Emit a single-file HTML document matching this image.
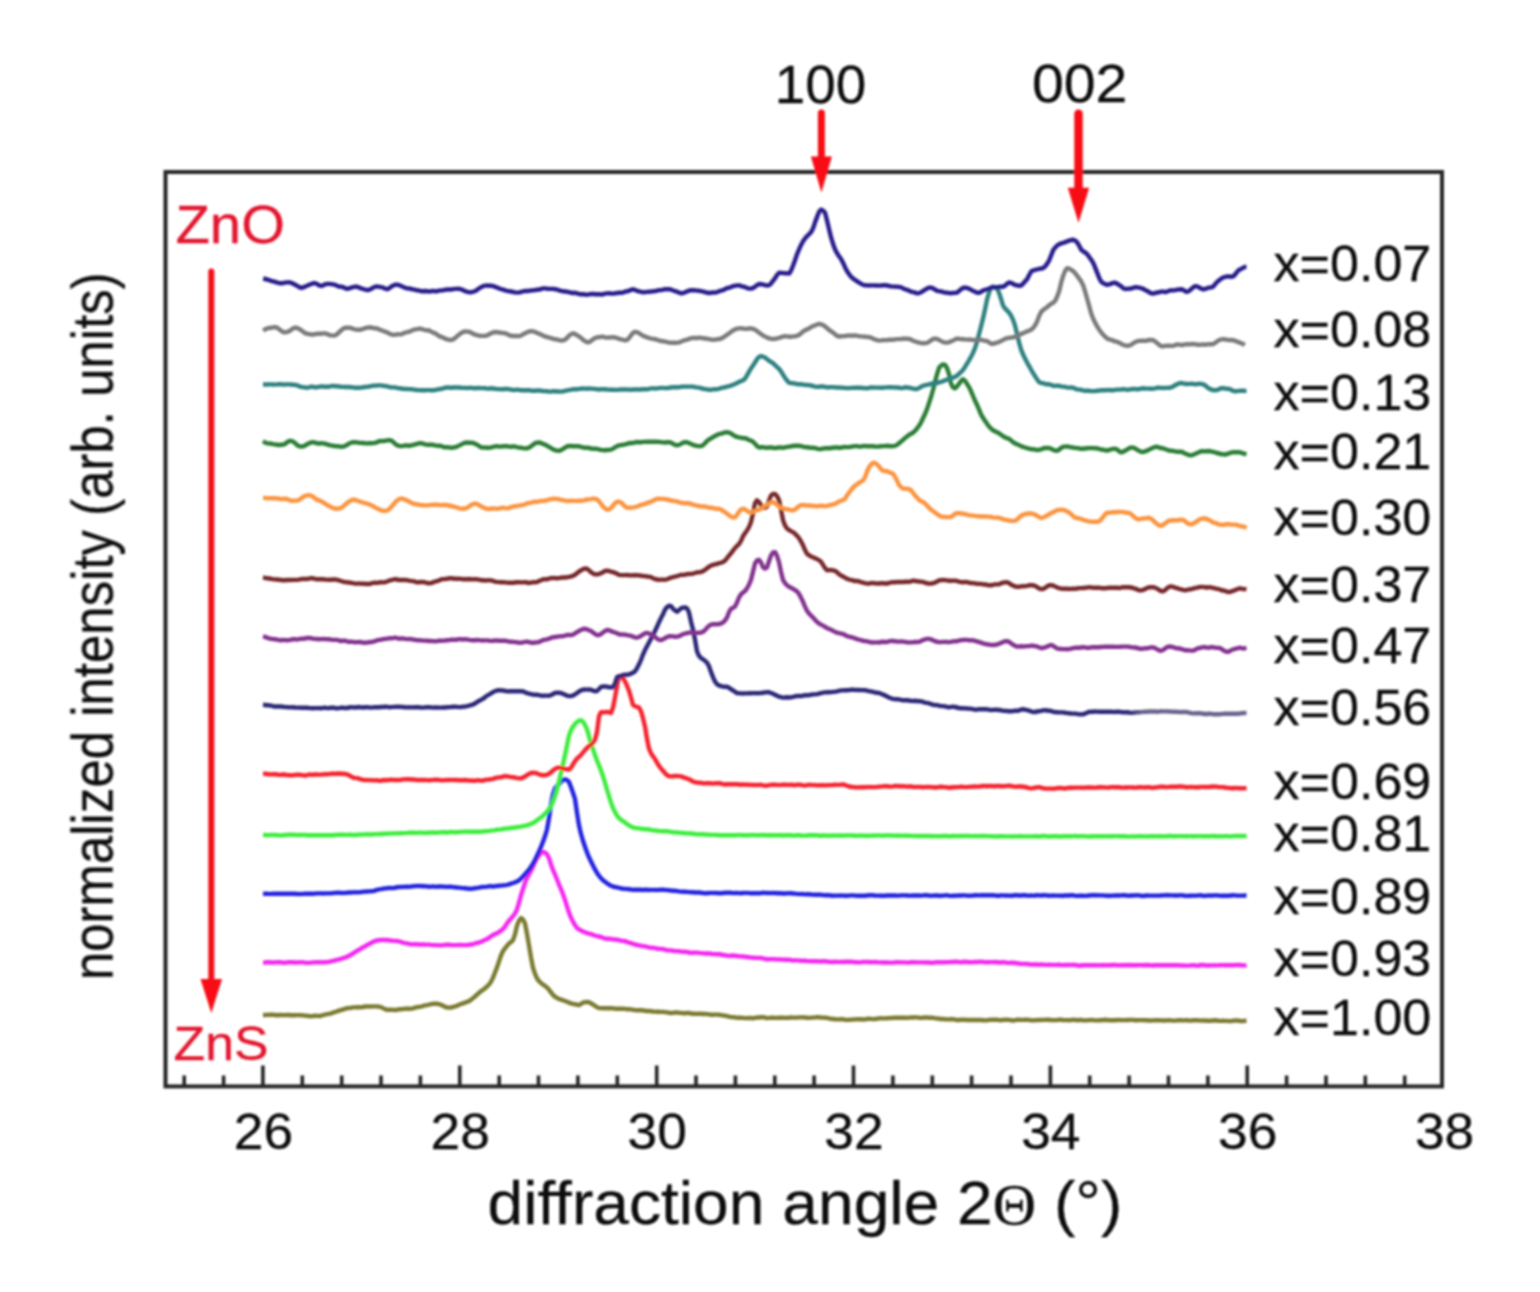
<!DOCTYPE html>
<html><head><meta charset="utf-8"><title>XRD</title>
<style>html,body{margin:0;padding:0;background:#fff;width:1540px;height:1292px;overflow:hidden}
text{font-family:"Liberation Sans", Arial, Helvetica, sans-serif;stroke:currentColor;stroke-width:0.3px;paint-order:stroke}</style></head>
<body>
<svg width="1540" height="1292" viewBox="0 0 1540 1292" style="display:block">
<rect width="1540" height="1292" fill="#fff"/>
<defs><filter id="b" x="-5%" y="-5%" width="110%" height="110%"><feGaussianBlur stdDeviation="1.0"/></filter></defs>
<g filter="url(#b)">
<path d="M263.0,1015.0 L265.0,1015.0 L267.0,1014.9 L269.0,1014.8 L271.0,1014.8 L273.0,1014.8 L275.0,1015.0 L277.0,1015.2 L279.0,1015.0 L281.0,1014.9 L283.0,1015.1 L285.0,1015.1 L287.0,1015.0 L289.0,1015.0 L291.0,1015.2 L293.0,1015.3 L295.0,1015.2 L297.0,1015.1 L299.0,1015.1 L301.0,1015.2 L303.0,1015.4 L305.0,1015.6 L307.0,1015.8 L309.0,1016.1 L311.0,1016.2 L313.0,1016.0 L315.0,1015.7 L317.0,1015.9 L319.0,1016.0 L321.0,1015.7 L323.0,1015.1 L325.0,1014.7 L327.0,1014.2 L329.0,1013.8 L331.0,1013.3 L333.0,1012.6 L335.0,1012.0 L337.0,1011.4 L339.0,1010.6 L341.0,1010.0 L343.0,1009.5 L345.0,1008.8 L347.0,1008.2 L349.0,1008.1 L351.0,1007.8 L353.0,1007.4 L355.0,1007.4 L357.0,1007.2 L359.0,1007.1 L361.0,1007.3 L363.0,1007.0 L365.0,1006.5 L367.0,1006.5 L369.0,1006.5 L371.0,1006.5 L373.0,1006.4 L375.0,1006.4 L377.0,1006.5 L379.0,1006.6 L381.0,1007.1 L383.0,1008.1 L385.0,1009.1 L387.0,1009.8 L389.0,1009.7 L391.0,1009.7 L393.0,1009.9 L395.0,1010.0 L397.0,1009.8 L399.0,1009.3 L401.0,1009.2 L403.0,1009.1 L405.0,1008.7 L407.0,1008.6 L409.0,1008.7 L411.0,1008.7 L413.0,1008.3 L415.0,1007.7 L417.0,1007.2 L419.0,1006.9 L421.0,1006.6 L423.0,1006.0 L425.0,1005.4 L427.0,1005.1 L429.0,1004.7 L431.0,1004.2 L433.0,1003.8 L435.0,1003.7 L437.0,1003.8 L439.0,1004.1 L441.0,1004.8 L443.0,1005.7 L445.0,1006.8 L447.0,1007.5 L449.0,1007.6 L451.0,1007.5 L453.0,1007.0 L455.0,1006.4 L457.0,1005.8 L459.0,1004.8 L461.0,1004.0 L463.0,1003.3 L465.0,1002.6 L467.0,1001.9 L469.0,1001.1 L471.0,999.7 L473.0,998.1 L475.0,996.5 L477.0,994.7 L479.0,992.8 L481.0,991.2 L483.0,989.9 L485.0,988.3 L487.0,986.5 L489.0,984.5 L491.0,981.8 L493.0,977.6 L495.0,972.5 L497.0,967.4 L499.0,961.4 L501.0,955.5 L503.0,951.1 L505.0,948.3 L507.0,945.8 L509.0,943.6 L511.0,942.1 L513.0,940.1 L515.0,934.3 L517.0,925.7 L519.0,920.6 L521.0,918.1 L523.0,919.5 L525.0,923.5 L527.0,933.9 L529.0,945.5 L531.0,957.4 L533.0,967.8 L535.0,973.9 L537.0,978.4 L539.0,981.1 L541.0,983.0 L543.0,984.6 L545.0,985.9 L547.0,987.4 L549.0,989.7 L551.0,992.4 L553.0,995.0 L555.0,996.7 L557.0,998.0 L559.0,998.9 L561.0,999.6 L563.0,1000.2 L565.0,1001.0 L567.0,1001.8 L569.0,1002.6 L571.0,1003.4 L573.0,1003.9 L575.0,1004.2 L577.0,1004.7 L579.0,1005.0 L581.0,1004.0 L583.0,1002.7 L585.0,1002.1 L587.0,1002.0 L589.0,1002.3 L591.0,1003.3 L593.0,1004.5 L595.0,1005.8 L597.0,1007.2 L599.0,1008.0 L601.0,1008.1 L603.0,1008.2 L605.0,1008.3 L607.0,1008.3 L609.0,1008.3 L611.0,1008.2 L613.0,1008.3 L615.0,1008.7 L617.0,1008.7 L619.0,1008.7 L621.0,1008.8 L623.0,1008.8 L625.0,1008.9 L627.0,1009.2 L629.0,1009.3 L631.0,1009.4 L633.0,1009.8 L635.0,1010.1 L637.0,1010.3 L639.0,1010.3 L641.0,1010.2 L643.0,1010.3 L645.0,1010.8 L647.0,1011.0 L649.0,1011.0 L651.0,1011.2 L653.0,1011.5 L655.0,1011.6 L657.0,1011.7 L659.0,1011.8 L661.0,1011.9 L663.0,1011.9 L665.0,1012.1 L667.0,1012.4 L669.0,1012.7 L671.0,1013.0 L673.0,1012.9 L675.0,1012.5 L677.0,1012.5 L679.0,1012.8 L681.0,1012.9 L683.0,1013.2 L685.0,1013.3 L687.0,1013.0 L689.0,1013.0 L691.0,1013.5 L693.0,1013.8 L695.0,1013.8 L697.0,1013.9 L699.0,1013.8 L701.0,1013.8 L703.0,1014.0 L705.0,1014.0 L707.0,1014.1 L709.0,1014.4 L711.0,1014.7 L713.0,1014.7 L715.0,1014.6 L717.0,1014.6 L719.0,1014.8 L721.0,1015.1 L723.0,1015.4 L725.0,1015.7 L727.0,1016.2 L729.0,1016.7 L731.0,1017.1 L733.0,1017.1 L735.0,1017.4 L737.0,1017.7 L739.0,1017.7 L741.0,1017.7 L743.0,1017.9 L745.0,1018.1 L747.0,1018.1 L749.0,1018.0 L751.0,1018.0 L753.0,1018.2 L755.0,1017.9 L757.0,1017.5 L759.0,1017.5 L761.0,1017.2 L763.0,1017.1 L765.0,1017.6 L767.0,1018.1 L769.0,1017.9 L771.0,1017.6 L773.0,1017.7 L775.0,1017.9 L777.0,1017.9 L779.0,1017.8 L781.0,1017.7 L783.0,1017.8 L785.0,1017.9 L787.0,1017.9 L789.0,1017.7 L791.0,1017.5 L793.0,1017.6 L795.0,1017.6 L797.0,1017.6 L799.0,1017.4 L801.0,1017.4 L803.0,1017.4 L805.0,1017.5 L807.0,1017.8 L809.0,1017.9 L811.0,1017.6 L813.0,1017.6 L815.0,1017.4 L817.0,1017.1 L819.0,1017.3 L821.0,1017.6 L823.0,1017.6 L825.0,1017.7 L827.0,1017.9 L829.0,1018.4 L831.0,1018.8 L833.0,1019.0 L835.0,1019.2 L837.0,1019.4 L839.0,1019.4 L841.0,1019.2 L843.0,1019.3 L845.0,1019.7 L847.0,1019.9 L849.0,1019.8 L851.0,1019.6 L853.0,1019.5 L855.0,1019.4 L857.0,1019.3 L859.0,1019.2 L861.0,1019.3 L863.0,1019.5 L865.0,1019.3 L867.0,1019.0 L869.0,1018.8 L871.0,1018.9 L873.0,1019.1 L875.0,1019.0 L877.0,1018.7 L879.0,1018.4 L881.0,1018.2 L883.0,1018.4 L885.0,1018.4 L887.0,1018.2 L889.0,1018.1 L891.0,1018.0 L893.0,1017.9 L895.0,1017.7 L897.0,1017.6 L899.0,1017.7 L901.0,1017.8 L903.0,1017.7 L905.0,1017.8 L907.0,1017.9 L909.0,1017.6 L911.0,1017.4 L913.0,1017.5 L915.0,1017.4 L917.0,1017.4 L919.0,1017.7 L921.0,1017.9 L923.0,1017.7 L925.0,1017.5 L927.0,1017.5 L929.0,1017.7 L931.0,1017.6 L933.0,1017.8 L935.0,1018.2 L937.0,1018.4 L939.0,1018.7 L941.0,1019.0 L943.0,1019.0 L945.0,1019.2 L947.0,1019.4 L949.0,1019.3 L951.0,1019.1 L953.0,1019.2 L955.0,1019.6 L957.0,1020.0 L959.0,1020.0 L961.0,1019.7 L963.0,1019.7 L965.0,1019.8 L967.0,1020.0 L969.0,1020.0 L971.0,1020.0 L973.0,1020.0 L975.0,1020.0 L977.0,1020.0 L979.0,1020.0 L981.0,1020.0 L983.0,1020.2 L985.0,1020.4 L987.0,1020.3 L989.0,1019.9 L991.0,1019.7 L993.0,1019.8 L995.0,1019.6 L997.0,1019.7 L999.0,1020.1 L1001.0,1020.2 L1003.0,1019.9 L1005.0,1019.7 L1007.0,1019.7 L1009.0,1019.9 L1011.0,1020.2 L1013.0,1020.5 L1015.0,1020.2 L1017.0,1019.8 L1019.0,1019.7 L1021.0,1019.9 L1023.0,1019.9 L1025.0,1019.8 L1027.0,1019.8 L1029.0,1019.9 L1031.0,1020.2 L1033.0,1020.4 L1035.0,1020.2 L1037.0,1020.1 L1039.0,1020.0 L1041.0,1020.0 L1043.0,1019.9 L1045.0,1019.8 L1047.0,1019.6 L1049.0,1019.7 L1051.0,1020.0 L1053.0,1020.1 L1055.0,1020.1 L1057.0,1020.1 L1059.0,1019.7 L1061.0,1019.8 L1063.0,1020.0 L1065.0,1020.1 L1067.0,1020.1 L1069.0,1020.2 L1071.0,1020.1 L1073.0,1019.8 L1075.0,1019.9 L1077.0,1020.2 L1079.0,1020.0 L1081.0,1019.9 L1083.0,1020.2 L1085.0,1020.4 L1087.0,1020.3 L1089.0,1020.1 L1091.0,1019.9 L1093.0,1020.1 L1095.0,1020.4 L1097.0,1020.4 L1099.0,1020.3 L1101.0,1020.2 L1103.0,1020.0 L1105.0,1019.8 L1107.0,1020.0 L1109.0,1020.2 L1111.0,1020.1 L1113.0,1020.3 L1115.0,1020.2 L1117.0,1020.0 L1119.0,1020.0 L1121.0,1020.1 L1123.0,1020.1 L1125.0,1020.1 L1127.0,1020.0 L1129.0,1020.0 L1131.0,1019.9 L1133.0,1019.9 L1135.0,1020.2 L1137.0,1020.3 L1139.0,1020.1 L1141.0,1020.1 L1143.0,1020.1 L1145.0,1020.2 L1147.0,1020.3 L1149.0,1020.5 L1151.0,1020.5 L1153.0,1020.4 L1155.0,1020.3 L1157.0,1020.3 L1159.0,1020.3 L1161.0,1020.4 L1163.0,1020.5 L1165.0,1020.5 L1167.0,1020.4 L1169.0,1020.2 L1171.0,1020.4 L1173.0,1020.6 L1175.0,1020.6 L1177.0,1020.4 L1179.0,1020.3 L1181.0,1020.3 L1183.0,1020.4 L1185.0,1020.3 L1187.0,1020.1 L1189.0,1020.5 L1191.0,1020.6 L1193.0,1020.3 L1195.0,1020.2 L1197.0,1020.3 L1199.0,1020.4 L1201.0,1020.6 L1203.0,1020.5 L1205.0,1020.5 L1207.0,1020.7 L1209.0,1020.7 L1211.0,1020.7 L1213.0,1020.5 L1215.0,1020.3 L1217.0,1020.5 L1219.0,1020.9 L1221.0,1020.9 L1223.0,1020.8 L1225.0,1020.9 L1227.0,1020.9 L1229.0,1021.1 L1231.0,1021.1 L1233.0,1020.7 L1235.0,1020.5 L1237.0,1020.5 L1239.0,1020.7 L1241.0,1021.0 L1243.0,1021.1 L1245.0,1020.8 L1246.5,1020.7" fill="none" stroke="#7a7a32" stroke-width="4.4" stroke-linejoin="round" stroke-linecap="butt"/>
<path d="M263.0,962.6 L265.0,962.5 L267.0,962.2 L269.0,962.3 L271.0,962.5 L273.0,962.5 L275.0,962.4 L277.0,962.3 L279.0,962.2 L281.0,962.3 L283.0,962.7 L285.0,962.7 L287.0,962.4 L289.0,962.2 L291.0,962.1 L293.0,962.3 L295.0,962.5 L297.0,962.5 L299.0,962.4 L301.0,962.3 L303.0,962.4 L305.0,962.6 L307.0,962.8 L309.0,962.9 L311.0,962.6 L313.0,962.4 L315.0,962.4 L317.0,962.3 L319.0,962.3 L321.0,962.4 L323.0,962.3 L325.0,962.3 L327.0,962.1 L329.0,961.8 L331.0,961.3 L333.0,960.8 L335.0,960.3 L337.0,959.8 L339.0,959.3 L341.0,958.8 L343.0,958.2 L345.0,957.5 L347.0,956.8 L349.0,955.8 L351.0,954.7 L353.0,953.5 L355.0,952.1 L357.0,950.9 L359.0,949.8 L361.0,948.5 L363.0,947.4 L365.0,946.3 L367.0,945.1 L369.0,944.0 L371.0,943.0 L373.0,941.9 L375.0,941.0 L377.0,940.5 L379.0,940.1 L381.0,940.0 L383.0,940.0 L385.0,940.0 L387.0,940.0 L389.0,940.3 L391.0,940.6 L393.0,940.8 L395.0,940.9 L397.0,941.0 L399.0,941.4 L401.0,942.0 L403.0,942.7 L405.0,943.1 L407.0,943.4 L409.0,943.9 L411.0,944.3 L413.0,944.4 L415.0,944.3 L417.0,944.3 L419.0,944.6 L421.0,944.5 L423.0,944.4 L425.0,944.6 L427.0,944.6 L429.0,944.6 L431.0,944.9 L433.0,945.1 L435.0,945.1 L437.0,945.1 L439.0,945.4 L441.0,945.4 L443.0,945.1 L445.0,944.9 L447.0,944.7 L449.0,944.8 L451.0,945.0 L453.0,945.1 L455.0,945.1 L457.0,945.1 L459.0,945.0 L461.0,945.0 L463.0,945.1 L465.0,945.1 L467.0,945.0 L469.0,944.8 L471.0,944.5 L473.0,944.2 L475.0,943.5 L477.0,942.9 L479.0,942.5 L481.0,941.8 L483.0,940.9 L485.0,939.9 L487.0,939.0 L489.0,937.8 L491.0,936.4 L493.0,935.0 L495.0,934.1 L497.0,933.3 L499.0,932.0 L501.0,930.6 L503.0,929.0 L505.0,926.6 L507.0,923.4 L509.0,920.7 L511.0,918.5 L513.0,916.2 L515.0,913.5 L517.0,909.4 L519.0,902.6 L521.0,895.4 L523.0,889.0 L525.0,882.9 L527.0,878.2 L529.0,874.5 L531.0,870.8 L533.0,866.5 L535.0,861.9 L537.0,858.1 L539.0,855.3 L541.0,852.9 L543.0,851.9 L545.0,852.5 L547.0,854.3 L549.0,858.1 L551.0,864.5 L553.0,869.9 L555.0,874.5 L557.0,879.4 L559.0,884.5 L561.0,889.2 L563.0,894.2 L565.0,899.9 L567.0,906.4 L569.0,912.7 L571.0,917.6 L573.0,921.7 L575.0,925.2 L577.0,927.9 L579.0,929.4 L581.0,930.5 L583.0,931.5 L585.0,932.3 L587.0,933.1 L589.0,933.7 L591.0,934.2 L593.0,934.8 L595.0,935.5 L597.0,936.1 L599.0,936.5 L601.0,937.0 L603.0,937.8 L605.0,938.5 L607.0,938.7 L609.0,938.7 L611.0,939.0 L613.0,939.4 L615.0,939.5 L617.0,939.7 L619.0,940.2 L621.0,940.7 L623.0,940.9 L625.0,941.2 L627.0,941.9 L629.0,942.7 L631.0,943.2 L633.0,943.8 L635.0,944.5 L637.0,945.0 L639.0,945.4 L641.0,945.8 L643.0,946.1 L645.0,946.4 L647.0,946.9 L649.0,947.4 L651.0,947.7 L653.0,947.8 L655.0,948.1 L657.0,948.6 L659.0,948.8 L661.0,948.9 L663.0,949.1 L665.0,949.7 L667.0,950.3 L669.0,950.4 L671.0,950.4 L673.0,950.8 L675.0,951.1 L677.0,951.1 L679.0,951.2 L681.0,951.6 L683.0,951.8 L685.0,951.8 L687.0,952.0 L689.0,952.5 L691.0,952.7 L693.0,952.7 L695.0,952.6 L697.0,952.6 L699.0,952.9 L701.0,953.1 L703.0,953.4 L705.0,953.5 L707.0,953.4 L709.0,953.5 L711.0,953.8 L713.0,954.0 L715.0,954.1 L717.0,954.3 L719.0,954.3 L721.0,954.5 L723.0,955.0 L725.0,955.3 L727.0,955.6 L729.0,955.9 L731.0,955.7 L733.0,955.5 L735.0,955.7 L737.0,956.0 L739.0,956.3 L741.0,956.4 L743.0,956.5 L745.0,956.8 L747.0,957.0 L749.0,957.3 L751.0,957.5 L753.0,957.6 L755.0,957.8 L757.0,957.9 L759.0,957.9 L761.0,958.0 L763.0,958.4 L765.0,959.0 L767.0,959.2 L769.0,959.2 L771.0,959.1 L773.0,959.1 L775.0,959.3 L777.0,959.4 L779.0,959.4 L781.0,959.5 L783.0,959.6 L785.0,959.7 L787.0,959.7 L789.0,959.8 L791.0,960.1 L793.0,960.5 L795.0,960.4 L797.0,960.4 L799.0,960.6 L801.0,960.7 L803.0,960.6 L805.0,960.7 L807.0,961.0 L809.0,961.1 L811.0,961.2 L813.0,961.3 L815.0,961.3 L817.0,961.2 L819.0,961.4 L821.0,961.5 L823.0,961.3 L825.0,961.3 L827.0,961.6 L829.0,961.8 L831.0,962.0 L833.0,962.0 L835.0,961.8 L837.0,961.9 L839.0,961.9 L841.0,961.9 L843.0,962.0 L845.0,961.8 L847.0,961.6 L849.0,961.7 L851.0,961.8 L853.0,961.9 L855.0,962.2 L857.0,962.3 L859.0,962.4 L861.0,962.2 L863.0,961.9 L865.0,961.9 L867.0,962.0 L869.0,962.0 L871.0,962.2 L873.0,962.1 L875.0,962.0 L877.0,962.3 L879.0,962.4 L881.0,962.4 L883.0,962.5 L885.0,962.5 L887.0,962.5 L889.0,962.6 L891.0,962.6 L893.0,962.6 L895.0,962.4 L897.0,962.3 L899.0,962.3 L901.0,962.4 L903.0,962.4 L905.0,962.4 L907.0,962.6 L909.0,962.5 L911.0,962.2 L913.0,962.1 L915.0,962.3 L917.0,962.4 L919.0,962.4 L921.0,962.4 L923.0,962.4 L925.0,962.5 L927.0,962.4 L929.0,962.5 L931.0,962.8 L933.0,962.8 L935.0,962.4 L937.0,962.2 L939.0,962.3 L941.0,962.4 L943.0,962.2 L945.0,962.2 L947.0,962.2 L949.0,962.1 L951.0,962.0 L953.0,962.0 L955.0,961.8 L957.0,961.8 L959.0,962.1 L961.0,962.2 L963.0,962.0 L965.0,961.8 L967.0,962.0 L969.0,962.2 L971.0,962.2 L973.0,962.1 L975.0,962.0 L977.0,962.0 L979.0,961.9 L981.0,961.8 L983.0,961.9 L985.0,962.2 L987.0,962.2 L989.0,962.2 L991.0,962.1 L993.0,962.1 L995.0,962.0 L997.0,962.2 L999.0,962.5 L1001.0,962.5 L1003.0,962.3 L1005.0,962.4 L1007.0,962.7 L1009.0,962.9 L1011.0,962.7 L1013.0,962.7 L1015.0,963.0 L1017.0,963.3 L1019.0,963.6 L1021.0,963.8 L1023.0,963.9 L1025.0,963.9 L1027.0,963.9 L1029.0,964.2 L1031.0,964.6 L1033.0,964.5 L1035.0,964.4 L1037.0,964.5 L1039.0,964.7 L1041.0,964.5 L1043.0,964.6 L1045.0,964.8 L1047.0,964.9 L1049.0,964.8 L1051.0,964.9 L1053.0,964.9 L1055.0,964.9 L1057.0,964.9 L1059.0,964.8 L1061.0,965.0 L1063.0,965.1 L1065.0,964.9 L1067.0,965.0 L1069.0,965.0 L1071.0,964.9 L1073.0,964.9 L1075.0,965.0 L1077.0,965.3 L1079.0,965.7 L1081.0,965.5 L1083.0,965.3 L1085.0,965.2 L1087.0,965.2 L1089.0,965.2 L1091.0,965.2 L1093.0,965.1 L1095.0,965.2 L1097.0,965.3 L1099.0,965.4 L1101.0,965.2 L1103.0,965.1 L1105.0,965.2 L1107.0,965.3 L1109.0,965.3 L1111.0,965.2 L1113.0,965.0 L1115.0,964.9 L1117.0,965.2 L1119.0,965.4 L1121.0,965.3 L1123.0,965.3 L1125.0,965.3 L1127.0,965.2 L1129.0,965.0 L1131.0,965.2 L1133.0,965.3 L1135.0,965.2 L1137.0,965.2 L1139.0,965.1 L1141.0,965.1 L1143.0,965.3 L1145.0,965.2 L1147.0,965.0 L1149.0,965.2 L1151.0,965.4 L1153.0,965.5 L1155.0,965.3 L1157.0,965.3 L1159.0,965.3 L1161.0,965.2 L1163.0,965.3 L1165.0,965.2 L1167.0,965.1 L1169.0,965.2 L1171.0,965.2 L1173.0,965.2 L1175.0,965.2 L1177.0,965.2 L1179.0,965.4 L1181.0,965.5 L1183.0,965.5 L1185.0,965.6 L1187.0,965.6 L1189.0,965.6 L1191.0,965.4 L1193.0,965.3 L1195.0,965.4 L1197.0,965.7 L1199.0,965.5 L1201.0,965.0 L1203.0,965.0 L1205.0,965.4 L1207.0,965.5 L1209.0,965.5 L1211.0,965.4 L1213.0,965.4 L1215.0,965.4 L1217.0,965.4 L1219.0,965.3 L1221.0,965.1 L1223.0,965.1 L1225.0,965.3 L1227.0,965.3 L1229.0,965.3 L1231.0,965.2 L1233.0,965.2 L1235.0,965.1 L1237.0,965.0 L1239.0,965.0 L1241.0,965.2 L1243.0,965.4 L1245.0,965.5 L1246.5,965.4" fill="none" stroke="#f428f0" stroke-width="4.4" stroke-linejoin="round" stroke-linecap="butt"/>
<path d="M263.0,893.9 L265.0,893.8 L267.0,893.8 L269.0,893.9 L271.0,893.9 L273.0,893.8 L275.0,893.7 L277.0,893.7 L279.0,893.7 L281.0,893.7 L283.0,893.8 L285.0,893.8 L287.0,893.7 L289.0,893.7 L291.0,893.8 L293.0,893.8 L295.0,893.8 L297.0,894.0 L299.0,894.0 L301.0,894.1 L303.0,893.9 L305.0,893.7 L307.0,893.7 L309.0,893.8 L311.0,893.8 L313.0,893.7 L315.0,893.6 L317.0,893.4 L319.0,893.4 L321.0,893.4 L323.0,893.5 L325.0,893.4 L327.0,893.4 L329.0,893.4 L331.0,893.3 L333.0,893.1 L335.0,892.9 L337.0,892.8 L339.0,892.7 L341.0,892.9 L343.0,893.0 L345.0,892.9 L347.0,892.7 L349.0,892.5 L351.0,892.5 L353.0,892.4 L355.0,892.3 L357.0,892.4 L359.0,892.3 L361.0,892.1 L363.0,891.8 L365.0,891.6 L367.0,891.5 L369.0,891.4 L371.0,891.3 L373.0,891.1 L375.0,890.6 L377.0,889.8 L379.0,889.4 L381.0,889.1 L383.0,888.7 L385.0,888.4 L387.0,888.2 L389.0,887.9 L391.0,888.0 L393.0,888.1 L395.0,887.8 L397.0,887.2 L399.0,887.0 L401.0,887.0 L403.0,886.9 L405.0,886.7 L407.0,886.6 L409.0,886.7 L411.0,886.6 L413.0,886.3 L415.0,886.1 L417.0,886.0 L419.0,885.9 L421.0,886.0 L423.0,886.2 L425.0,886.3 L427.0,886.4 L429.0,886.7 L431.0,886.6 L433.0,886.4 L435.0,886.6 L437.0,886.7 L439.0,886.5 L441.0,886.5 L443.0,886.6 L445.0,886.7 L447.0,886.9 L449.0,886.7 L451.0,886.8 L453.0,887.1 L455.0,887.3 L457.0,887.5 L459.0,887.6 L461.0,887.9 L463.0,888.1 L465.0,888.2 L467.0,888.5 L469.0,888.7 L471.0,888.8 L473.0,888.6 L475.0,888.2 L477.0,887.9 L479.0,887.6 L481.0,887.2 L483.0,886.9 L485.0,886.9 L487.0,886.7 L489.0,886.3 L491.0,886.3 L493.0,886.5 L495.0,886.3 L497.0,886.0 L499.0,885.8 L501.0,885.6 L503.0,885.4 L505.0,885.2 L507.0,884.8 L509.0,884.3 L511.0,883.6 L513.0,883.0 L515.0,882.3 L517.0,881.5 L519.0,880.3 L521.0,878.6 L523.0,876.4 L525.0,874.2 L527.0,872.0 L529.0,869.6 L531.0,866.9 L533.0,863.8 L535.0,859.9 L537.0,855.6 L539.0,851.4 L541.0,846.9 L543.0,841.7 L545.0,836.3 L547.0,829.5 L549.0,818.2 L551.0,804.1 L553.0,794.4 L555.0,788.4 L557.0,785.9 L559.0,784.2 L561.0,781.8 L563.0,779.8 L565.0,779.4 L567.0,780.0 L569.0,781.9 L571.0,787.2 L573.0,792.7 L575.0,798.9 L577.0,812.8 L579.0,825.3 L581.0,833.9 L583.0,840.8 L585.0,846.8 L587.0,852.4 L589.0,857.3 L591.0,861.5 L593.0,865.5 L595.0,869.4 L597.0,872.9 L599.0,875.8 L601.0,878.2 L603.0,880.2 L605.0,881.8 L607.0,883.2 L609.0,884.6 L611.0,885.7 L613.0,886.5 L615.0,887.0 L617.0,887.4 L619.0,887.8 L621.0,888.3 L623.0,888.8 L625.0,888.9 L627.0,889.0 L629.0,889.2 L631.0,889.5 L633.0,889.7 L635.0,889.7 L637.0,889.7 L639.0,889.6 L641.0,889.8 L643.0,890.0 L645.0,889.8 L647.0,889.8 L649.0,890.0 L651.0,889.9 L653.0,889.9 L655.0,889.9 L657.0,890.0 L659.0,889.9 L661.0,889.8 L663.0,889.8 L665.0,889.9 L667.0,890.1 L669.0,890.3 L671.0,890.6 L673.0,890.7 L675.0,890.8 L677.0,891.1 L679.0,891.4 L681.0,891.6 L683.0,891.7 L685.0,891.8 L687.0,891.9 L689.0,892.1 L691.0,892.2 L693.0,892.3 L695.0,892.5 L697.0,892.5 L699.0,892.5 L701.0,892.7 L703.0,893.0 L705.0,893.2 L707.0,893.2 L709.0,893.0 L711.0,892.9 L713.0,892.9 L715.0,893.0 L717.0,893.0 L719.0,893.2 L721.0,893.3 L723.0,893.0 L725.0,892.8 L727.0,892.7 L729.0,892.7 L731.0,892.8 L733.0,893.1 L735.0,893.0 L737.0,892.9 L739.0,893.1 L741.0,893.2 L743.0,893.0 L745.0,892.9 L747.0,892.9 L749.0,893.1 L751.0,893.2 L753.0,893.3 L755.0,893.3 L757.0,893.3 L759.0,893.3 L761.0,893.1 L763.0,892.8 L765.0,892.9 L767.0,893.0 L769.0,893.0 L771.0,893.1 L773.0,893.0 L775.0,893.0 L777.0,893.3 L779.0,893.3 L781.0,893.3 L783.0,893.5 L785.0,893.5 L787.0,893.4 L789.0,893.2 L791.0,893.3 L793.0,893.5 L795.0,893.6 L797.0,893.9 L799.0,894.1 L801.0,894.0 L803.0,894.1 L805.0,894.4 L807.0,894.3 L809.0,894.3 L811.0,894.5 L813.0,894.6 L815.0,894.7 L817.0,894.8 L819.0,894.8 L821.0,894.8 L823.0,895.1 L825.0,895.2 L827.0,895.2 L829.0,895.3 L831.0,895.5 L833.0,895.7 L835.0,895.6 L837.0,895.6 L839.0,895.6 L841.0,895.5 L843.0,895.6 L845.0,895.7 L847.0,895.7 L849.0,895.6 L851.0,895.4 L853.0,895.4 L855.0,895.6 L857.0,895.7 L859.0,895.7 L861.0,895.7 L863.0,895.8 L865.0,895.8 L867.0,895.5 L869.0,895.3 L871.0,895.2 L873.0,895.3 L875.0,895.6 L877.0,895.6 L879.0,895.6 L881.0,895.8 L883.0,895.8 L885.0,895.7 L887.0,895.5 L889.0,895.5 L891.0,895.5 L893.0,895.5 L895.0,895.4 L897.0,895.6 L899.0,895.6 L901.0,895.4 L903.0,895.4 L905.0,895.4 L907.0,895.5 L909.0,895.6 L911.0,895.6 L913.0,895.5 L915.0,895.4 L917.0,895.5 L919.0,895.5 L921.0,895.6 L923.0,895.4 L925.0,895.1 L927.0,895.3 L929.0,895.6 L931.0,895.7 L933.0,895.6 L935.0,895.5 L937.0,895.4 L939.0,895.7 L941.0,895.8 L943.0,895.6 L945.0,895.4 L947.0,895.3 L949.0,895.7 L951.0,895.9 L953.0,895.8 L955.0,895.7 L957.0,895.6 L959.0,895.5 L961.0,895.5 L963.0,895.4 L965.0,895.4 L967.0,895.6 L969.0,895.7 L971.0,895.6 L973.0,895.5 L975.0,895.3 L977.0,895.3 L979.0,895.4 L981.0,895.3 L983.0,895.2 L985.0,895.2 L987.0,895.2 L989.0,895.2 L991.0,895.1 L993.0,895.2 L995.0,895.4 L997.0,895.7 L999.0,895.7 L1001.0,895.4 L1003.0,895.4 L1005.0,895.6 L1007.0,895.5 L1009.0,895.6 L1011.0,895.7 L1013.0,895.5 L1015.0,895.3 L1017.0,895.3 L1019.0,895.5 L1021.0,895.5 L1023.0,895.3 L1025.0,895.3 L1027.0,895.5 L1029.0,895.6 L1031.0,895.5 L1033.0,895.6 L1035.0,895.5 L1037.0,895.3 L1039.0,895.4 L1041.0,895.5 L1043.0,895.3 L1045.0,895.2 L1047.0,895.4 L1049.0,895.7 L1051.0,895.6 L1053.0,895.5 L1055.0,895.6 L1057.0,895.6 L1059.0,895.6 L1061.0,895.8 L1063.0,895.7 L1065.0,895.5 L1067.0,895.4 L1069.0,895.5 L1071.0,895.3 L1073.0,895.3 L1075.0,895.7 L1077.0,895.9 L1079.0,895.7 L1081.0,895.6 L1083.0,895.7 L1085.0,895.9 L1087.0,895.8 L1089.0,895.5 L1091.0,895.3 L1093.0,895.3 L1095.0,895.1 L1097.0,895.2 L1099.0,895.4 L1101.0,895.4 L1103.0,895.4 L1105.0,895.6 L1107.0,895.8 L1109.0,895.8 L1111.0,895.7 L1113.0,895.6 L1115.0,895.5 L1117.0,895.5 L1119.0,895.5 L1121.0,895.4 L1123.0,895.3 L1125.0,895.3 L1127.0,895.6 L1129.0,895.7 L1131.0,895.5 L1133.0,895.5 L1135.0,895.4 L1137.0,895.3 L1139.0,895.4 L1141.0,895.8 L1143.0,896.0 L1145.0,895.7 L1147.0,895.5 L1149.0,895.6 L1151.0,895.6 L1153.0,895.6 L1155.0,895.6 L1157.0,895.6 L1159.0,895.6 L1161.0,895.5 L1163.0,895.4 L1165.0,895.3 L1167.0,895.3 L1169.0,895.3 L1171.0,895.4 L1173.0,895.4 L1175.0,895.5 L1177.0,895.5 L1179.0,895.4 L1181.0,895.3 L1183.0,895.4 L1185.0,895.7 L1187.0,895.9 L1189.0,895.8 L1191.0,895.7 L1193.0,895.6 L1195.0,895.6 L1197.0,895.6 L1199.0,895.4 L1201.0,895.3 L1203.0,895.8 L1205.0,895.9 L1207.0,895.6 L1209.0,895.5 L1211.0,895.6 L1213.0,895.5 L1215.0,895.4 L1217.0,895.4 L1219.0,895.6 L1221.0,895.7 L1223.0,895.8 L1225.0,895.8 L1227.0,895.8 L1229.0,895.7 L1231.0,895.5 L1233.0,895.3 L1235.0,895.4 L1237.0,895.6 L1239.0,895.6 L1241.0,895.6 L1243.0,895.6 L1245.0,895.4 L1246.5,895.5" fill="none" stroke="#2424e0" stroke-width="4.4" stroke-linejoin="round" stroke-linecap="butt"/>
<path d="M263.0,834.9 L265.0,835.0 L267.0,835.1 L269.0,835.1 L271.0,834.9 L273.0,834.9 L275.0,835.0 L277.0,835.1 L279.0,835.3 L281.0,835.4 L283.0,835.3 L285.0,835.0 L287.0,834.9 L289.0,834.8 L291.0,834.8 L293.0,834.8 L295.0,834.9 L297.0,835.0 L299.0,835.0 L301.0,835.0 L303.0,834.9 L305.0,834.9 L307.0,835.2 L309.0,835.3 L311.0,835.3 L313.0,835.3 L315.0,835.2 L317.0,835.1 L319.0,835.2 L321.0,835.3 L323.0,835.1 L325.0,835.2 L327.0,835.3 L329.0,835.2 L331.0,835.2 L333.0,835.2 L335.0,835.0 L337.0,834.9 L339.0,834.8 L341.0,834.8 L343.0,834.8 L345.0,834.9 L347.0,834.9 L349.0,834.8 L351.0,834.8 L353.0,835.0 L355.0,835.0 L357.0,834.8 L359.0,834.6 L361.0,834.5 L363.0,834.6 L365.0,834.4 L367.0,834.2 L369.0,834.5 L371.0,834.5 L373.0,834.2 L375.0,834.1 L377.0,834.1 L379.0,834.0 L381.0,834.0 L383.0,833.7 L385.0,833.8 L387.0,833.8 L389.0,833.6 L391.0,833.5 L393.0,833.4 L395.0,833.4 L397.0,833.4 L399.0,833.3 L401.0,833.2 L403.0,833.1 L405.0,833.1 L407.0,832.9 L409.0,832.6 L411.0,832.7 L413.0,832.7 L415.0,832.8 L417.0,832.9 L419.0,832.6 L421.0,832.6 L423.0,832.8 L425.0,832.9 L427.0,832.8 L429.0,832.7 L431.0,832.4 L433.0,832.5 L435.0,832.7 L437.0,832.6 L439.0,832.5 L441.0,832.4 L443.0,832.3 L445.0,832.3 L447.0,832.5 L449.0,832.3 L451.0,832.0 L453.0,832.1 L455.0,832.2 L457.0,832.2 L459.0,832.0 L461.0,831.9 L463.0,831.8 L465.0,831.6 L467.0,831.6 L469.0,831.7 L471.0,831.7 L473.0,831.7 L475.0,831.8 L477.0,831.7 L479.0,831.6 L481.0,831.7 L483.0,831.4 L485.0,831.2 L487.0,831.1 L489.0,830.9 L491.0,830.6 L493.0,830.4 L495.0,830.1 L497.0,829.7 L499.0,829.6 L501.0,829.4 L503.0,829.0 L505.0,828.6 L507.0,828.5 L509.0,828.3 L511.0,828.0 L513.0,827.7 L515.0,827.5 L517.0,827.1 L519.0,826.9 L521.0,826.7 L523.0,826.2 L525.0,825.7 L527.0,825.4 L529.0,824.7 L531.0,823.9 L533.0,823.0 L535.0,821.8 L537.0,820.2 L539.0,818.8 L541.0,817.4 L543.0,815.7 L545.0,813.8 L547.0,811.7 L549.0,809.2 L551.0,806.1 L553.0,801.7 L555.0,796.1 L557.0,789.4 L559.0,781.3 L561.0,773.1 L563.0,764.3 L565.0,755.0 L567.0,745.4 L569.0,735.6 L571.0,730.3 L573.0,726.6 L575.0,724.1 L577.0,722.0 L579.0,720.7 L581.0,720.2 L583.0,721.7 L585.0,724.9 L587.0,729.2 L589.0,736.4 L591.0,743.4 L593.0,749.4 L595.0,755.1 L597.0,760.5 L599.0,765.4 L601.0,770.4 L603.0,776.1 L605.0,782.7 L607.0,789.7 L609.0,796.2 L611.0,802.6 L613.0,808.0 L615.0,812.1 L617.0,815.6 L619.0,818.0 L621.0,819.7 L623.0,821.1 L625.0,822.6 L627.0,824.0 L629.0,825.4 L631.0,826.6 L633.0,827.5 L635.0,827.9 L637.0,828.1 L639.0,828.4 L641.0,828.8 L643.0,829.0 L645.0,829.2 L647.0,829.3 L649.0,829.5 L651.0,829.9 L653.0,830.2 L655.0,830.4 L657.0,830.8 L659.0,831.0 L661.0,831.1 L663.0,831.2 L665.0,831.2 L667.0,831.3 L669.0,831.6 L671.0,831.9 L673.0,832.2 L675.0,832.4 L677.0,832.5 L679.0,832.6 L681.0,832.9 L683.0,833.0 L685.0,833.2 L687.0,833.4 L689.0,833.4 L691.0,833.5 L693.0,833.8 L695.0,834.1 L697.0,834.3 L699.0,834.4 L701.0,834.3 L703.0,834.3 L705.0,834.5 L707.0,834.6 L709.0,834.7 L711.0,834.9 L713.0,834.9 L715.0,834.9 L717.0,835.0 L719.0,835.2 L721.0,835.2 L723.0,835.2 L725.0,835.2 L727.0,835.3 L729.0,835.3 L731.0,835.3 L733.0,835.3 L735.0,835.2 L737.0,835.1 L739.0,835.0 L741.0,835.1 L743.0,835.2 L745.0,835.1 L747.0,835.2 L749.0,835.3 L751.0,835.1 L753.0,835.0 L755.0,835.1 L757.0,835.3 L759.0,835.2 L761.0,835.1 L763.0,835.0 L765.0,835.2 L767.0,835.3 L769.0,835.2 L771.0,835.2 L773.0,835.2 L775.0,835.4 L777.0,835.3 L779.0,835.2 L781.0,835.3 L783.0,835.5 L785.0,835.3 L787.0,835.2 L789.0,835.2 L791.0,835.3 L793.0,835.5 L795.0,835.6 L797.0,835.3 L799.0,835.2 L801.0,835.5 L803.0,835.6 L805.0,835.6 L807.0,835.5 L809.0,835.3 L811.0,835.2 L813.0,835.1 L815.0,835.2 L817.0,835.4 L819.0,835.5 L821.0,835.7 L823.0,835.5 L825.0,835.4 L827.0,835.6 L829.0,835.8 L831.0,835.6 L833.0,835.4 L835.0,835.5 L837.0,835.6 L839.0,835.5 L841.0,835.4 L843.0,835.6 L845.0,835.5 L847.0,835.4 L849.0,835.4 L851.0,835.4 L853.0,835.5 L855.0,835.7 L857.0,835.8 L859.0,835.6 L861.0,835.5 L863.0,835.6 L865.0,835.8 L867.0,835.8 L869.0,835.7 L871.0,835.6 L873.0,835.5 L875.0,835.6 L877.0,835.4 L879.0,835.4 L881.0,835.6 L883.0,835.6 L885.0,835.5 L887.0,835.4 L889.0,835.4 L891.0,835.5 L893.0,835.6 L895.0,835.6 L897.0,835.5 L899.0,835.7 L901.0,835.6 L903.0,835.6 L905.0,835.8 L907.0,835.8 L909.0,835.7 L911.0,835.9 L913.0,835.9 L915.0,835.9 L917.0,836.0 L919.0,836.0 L921.0,836.0 L923.0,836.0 L925.0,836.0 L927.0,836.0 L929.0,835.9 L931.0,836.0 L933.0,836.2 L935.0,836.1 L937.0,836.1 L939.0,836.3 L941.0,836.1 L943.0,836.0 L945.0,836.0 L947.0,836.0 L949.0,836.2 L951.0,836.2 L953.0,836.0 L955.0,836.0 L957.0,836.1 L959.0,836.0 L961.0,836.0 L963.0,836.0 L965.0,835.9 L967.0,835.9 L969.0,836.0 L971.0,836.1 L973.0,836.1 L975.0,836.0 L977.0,836.1 L979.0,836.1 L981.0,836.0 L983.0,835.9 L985.0,836.0 L987.0,836.1 L989.0,836.1 L991.0,836.2 L993.0,836.4 L995.0,836.5 L997.0,836.5 L999.0,836.2 L1001.0,836.1 L1003.0,836.3 L1005.0,836.4 L1007.0,836.4 L1009.0,836.4 L1011.0,836.4 L1013.0,836.5 L1015.0,836.4 L1017.0,836.4 L1019.0,836.3 L1021.0,836.3 L1023.0,836.4 L1025.0,836.4 L1027.0,836.4 L1029.0,836.4 L1031.0,836.4 L1033.0,836.4 L1035.0,836.3 L1037.0,836.3 L1039.0,836.5 L1041.0,836.3 L1043.0,836.0 L1045.0,836.1 L1047.0,836.3 L1049.0,836.5 L1051.0,836.5 L1053.0,836.3 L1055.0,836.2 L1057.0,836.3 L1059.0,836.5 L1061.0,836.5 L1063.0,836.3 L1065.0,836.3 L1067.0,836.3 L1069.0,836.1 L1071.0,836.2 L1073.0,836.1 L1075.0,836.0 L1077.0,836.2 L1079.0,836.3 L1081.0,836.1 L1083.0,836.1 L1085.0,836.4 L1087.0,836.4 L1089.0,836.5 L1091.0,836.5 L1093.0,836.3 L1095.0,836.3 L1097.0,836.3 L1099.0,836.2 L1101.0,836.2 L1103.0,836.3 L1105.0,836.4 L1107.0,836.3 L1109.0,836.2 L1111.0,836.2 L1113.0,836.2 L1115.0,836.1 L1117.0,836.1 L1119.0,836.2 L1121.0,836.2 L1123.0,836.2 L1125.0,836.3 L1127.0,836.5 L1129.0,836.6 L1131.0,836.4 L1133.0,836.4 L1135.0,836.5 L1137.0,836.4 L1139.0,836.3 L1141.0,836.3 L1143.0,836.4 L1145.0,836.4 L1147.0,836.5 L1149.0,836.4 L1151.0,836.3 L1153.0,836.2 L1155.0,836.3 L1157.0,836.4 L1159.0,836.3 L1161.0,836.3 L1163.0,836.4 L1165.0,836.4 L1167.0,836.2 L1169.0,836.0 L1171.0,836.0 L1173.0,836.2 L1175.0,836.2 L1177.0,836.1 L1179.0,836.1 L1181.0,836.1 L1183.0,836.1 L1185.0,836.3 L1187.0,836.3 L1189.0,836.1 L1191.0,836.1 L1193.0,836.2 L1195.0,836.2 L1197.0,836.1 L1199.0,836.1 L1201.0,836.1 L1203.0,836.3 L1205.0,836.3 L1207.0,836.2 L1209.0,836.2 L1211.0,836.1 L1213.0,836.0 L1215.0,836.2 L1217.0,836.3 L1219.0,836.3 L1221.0,836.4 L1223.0,836.4 L1225.0,836.1 L1227.0,836.1 L1229.0,836.4 L1231.0,836.4 L1233.0,836.1 L1235.0,836.0 L1237.0,836.0 L1239.0,836.0 L1241.0,836.0 L1243.0,836.0 L1245.0,836.0 L1246.5,836.0" fill="none" stroke="#3dec3d" stroke-width="4.4" stroke-linejoin="round" stroke-linecap="butt"/>
<path d="M263.0,773.9 L265.0,773.8 L267.0,774.0 L269.0,774.3 L271.0,774.4 L273.0,774.3 L275.0,774.3 L277.0,774.5 L279.0,774.9 L281.0,774.8 L283.0,774.5 L285.0,774.7 L287.0,775.0 L289.0,775.2 L291.0,775.4 L293.0,775.3 L295.0,774.9 L297.0,774.7 L299.0,774.7 L301.0,774.9 L303.0,775.3 L305.0,775.6 L307.0,775.1 L309.0,774.5 L311.0,774.6 L313.0,774.8 L315.0,774.5 L317.0,774.5 L319.0,774.6 L321.0,774.6 L323.0,774.4 L325.0,774.3 L327.0,774.3 L329.0,774.1 L331.0,773.8 L333.0,773.6 L335.0,773.7 L337.0,773.7 L339.0,773.5 L341.0,773.7 L343.0,773.8 L345.0,774.0 L347.0,774.4 L349.0,775.2 L351.0,776.5 L353.0,777.5 L355.0,777.9 L357.0,778.1 L359.0,778.6 L361.0,779.4 L363.0,779.9 L365.0,780.0 L367.0,780.1 L369.0,780.1 L371.0,780.1 L373.0,780.4 L375.0,780.4 L377.0,780.3 L379.0,780.7 L381.0,780.7 L383.0,780.2 L385.0,780.0 L387.0,780.2 L389.0,779.9 L391.0,779.6 L393.0,779.9 L395.0,780.0 L397.0,779.9 L399.0,780.1 L401.0,779.8 L403.0,779.4 L405.0,779.4 L407.0,779.2 L409.0,779.3 L411.0,779.5 L413.0,779.4 L415.0,779.6 L417.0,780.0 L419.0,780.0 L421.0,780.0 L423.0,779.9 L425.0,780.0 L427.0,780.1 L429.0,780.2 L431.0,780.1 L433.0,779.9 L435.0,779.7 L437.0,779.6 L439.0,779.9 L441.0,780.3 L443.0,780.4 L445.0,780.1 L447.0,780.0 L449.0,780.0 L451.0,779.9 L453.0,779.9 L455.0,780.0 L457.0,780.0 L459.0,780.2 L461.0,780.3 L463.0,780.2 L465.0,780.0 L467.0,780.2 L469.0,780.6 L471.0,780.5 L473.0,780.7 L475.0,780.7 L477.0,780.4 L479.0,780.3 L481.0,780.7 L483.0,780.6 L485.0,779.9 L487.0,779.6 L489.0,779.5 L491.0,779.3 L493.0,778.9 L495.0,778.2 L497.0,777.6 L499.0,777.4 L501.0,777.3 L503.0,776.6 L505.0,776.1 L507.0,776.3 L509.0,776.7 L511.0,777.1 L513.0,777.2 L515.0,777.5 L517.0,778.1 L519.0,778.4 L521.0,778.3 L523.0,777.6 L525.0,776.5 L527.0,775.1 L529.0,773.9 L531.0,773.0 L533.0,772.6 L535.0,772.9 L537.0,773.4 L539.0,774.3 L541.0,775.0 L543.0,775.2 L545.0,775.2 L547.0,774.8 L549.0,773.8 L551.0,772.2 L553.0,770.5 L555.0,768.9 L557.0,767.9 L559.0,767.7 L561.0,767.9 L563.0,768.5 L565.0,769.0 L567.0,769.3 L569.0,769.6 L571.0,767.9 L573.0,764.4 L575.0,761.1 L577.0,758.7 L579.0,756.9 L581.0,755.0 L583.0,752.5 L585.0,750.1 L587.0,748.0 L589.0,746.2 L591.0,744.7 L593.0,742.6 L595.0,739.6 L597.0,732.1 L599.0,716.3 L601.0,712.1 L603.0,712.3 L605.0,712.2 L607.0,711.8 L609.0,712.3 L611.0,712.9 L613.0,707.6 L615.0,697.3 L617.0,686.1 L619.0,676.2 L621.0,676.0 L623.0,678.3 L625.0,681.4 L627.0,685.7 L629.0,690.7 L631.0,697.5 L633.0,704.8 L635.0,706.4 L637.0,706.7 L639.0,707.6 L641.0,711.2 L643.0,718.2 L645.0,726.4 L647.0,738.8 L649.0,748.7 L651.0,753.2 L653.0,756.2 L655.0,759.0 L657.0,762.6 L659.0,765.9 L661.0,768.5 L663.0,770.8 L665.0,773.2 L667.0,775.1 L669.0,776.2 L671.0,776.4 L673.0,776.3 L675.0,776.0 L677.0,776.0 L679.0,776.1 L681.0,776.4 L683.0,777.1 L685.0,777.8 L687.0,778.4 L689.0,779.3 L691.0,780.3 L693.0,781.5 L695.0,782.3 L697.0,782.6 L699.0,782.7 L701.0,782.9 L703.0,783.2 L705.0,783.4 L707.0,783.3 L709.0,783.2 L711.0,783.4 L713.0,783.6 L715.0,783.4 L717.0,783.2 L719.0,783.3 L721.0,783.5 L723.0,784.1 L725.0,784.5 L727.0,784.2 L729.0,784.3 L731.0,784.3 L733.0,784.1 L735.0,784.2 L737.0,784.3 L739.0,784.5 L741.0,784.7 L743.0,784.5 L745.0,784.6 L747.0,784.8 L749.0,784.7 L751.0,784.9 L753.0,785.0 L755.0,785.0 L757.0,785.1 L759.0,784.9 L761.0,784.8 L763.0,785.3 L765.0,785.7 L767.0,785.5 L769.0,785.2 L771.0,784.8 L773.0,784.8 L775.0,784.8 L777.0,784.9 L779.0,785.1 L781.0,784.9 L783.0,784.7 L785.0,784.6 L787.0,784.8 L789.0,784.9 L791.0,784.8 L793.0,785.0 L795.0,785.2 L797.0,784.8 L799.0,784.6 L801.0,784.9 L803.0,785.4 L805.0,785.6 L807.0,785.2 L809.0,784.8 L811.0,784.9 L813.0,785.1 L815.0,785.1 L817.0,785.3 L819.0,785.4 L821.0,785.2 L823.0,785.2 L825.0,785.4 L827.0,785.3 L829.0,785.1 L831.0,785.1 L833.0,785.0 L835.0,784.8 L837.0,784.9 L839.0,784.9 L841.0,784.6 L843.0,784.5 L845.0,784.9 L847.0,785.8 L849.0,786.5 L851.0,786.8 L853.0,787.1 L855.0,787.2 L857.0,787.4 L859.0,787.4 L861.0,787.2 L863.0,787.1 L865.0,787.3 L867.0,787.1 L869.0,787.0 L871.0,787.1 L873.0,787.1 L875.0,787.1 L877.0,786.9 L879.0,786.6 L881.0,786.6 L883.0,786.4 L885.0,786.2 L887.0,786.3 L889.0,786.5 L891.0,786.6 L893.0,786.4 L895.0,786.0 L897.0,786.0 L899.0,786.2 L901.0,786.3 L903.0,786.3 L905.0,786.4 L907.0,786.6 L909.0,786.5 L911.0,786.5 L913.0,786.9 L915.0,787.0 L917.0,786.9 L919.0,786.9 L921.0,787.0 L923.0,787.2 L925.0,787.1 L927.0,787.0 L929.0,787.0 L931.0,787.1 L933.0,787.3 L935.0,787.5 L937.0,787.4 L939.0,787.0 L941.0,786.7 L943.0,787.0 L945.0,787.1 L947.0,787.4 L949.0,787.7 L951.0,787.5 L953.0,787.3 L955.0,787.2 L957.0,787.1 L959.0,787.0 L961.0,786.8 L963.0,786.9 L965.0,787.1 L967.0,787.1 L969.0,786.9 L971.0,786.7 L973.0,786.6 L975.0,786.5 L977.0,786.6 L979.0,786.6 L981.0,786.3 L983.0,786.0 L985.0,786.0 L987.0,786.3 L989.0,786.0 L991.0,786.0 L993.0,786.2 L995.0,786.3 L997.0,786.0 L999.0,786.0 L1001.0,786.3 L1003.0,786.2 L1005.0,786.1 L1007.0,785.9 L1009.0,785.7 L1011.0,786.0 L1013.0,786.4 L1015.0,786.7 L1017.0,786.6 L1019.0,786.4 L1021.0,786.5 L1023.0,786.7 L1025.0,787.0 L1027.0,787.5 L1029.0,788.1 L1031.0,788.4 L1033.0,788.1 L1035.0,787.7 L1037.0,787.4 L1039.0,787.2 L1041.0,787.7 L1043.0,788.2 L1045.0,788.5 L1047.0,788.6 L1049.0,788.6 L1051.0,788.6 L1053.0,788.7 L1055.0,788.6 L1057.0,788.2 L1059.0,787.9 L1061.0,788.0 L1063.0,788.4 L1065.0,788.5 L1067.0,788.1 L1069.0,787.7 L1071.0,787.7 L1073.0,787.7 L1075.0,787.6 L1077.0,787.6 L1079.0,787.6 L1081.0,787.6 L1083.0,787.7 L1085.0,787.6 L1087.0,787.5 L1089.0,787.4 L1091.0,787.5 L1093.0,787.6 L1095.0,787.6 L1097.0,787.5 L1099.0,787.3 L1101.0,787.3 L1103.0,787.4 L1105.0,787.4 L1107.0,787.6 L1109.0,787.5 L1111.0,787.1 L1113.0,787.1 L1115.0,787.2 L1117.0,787.2 L1119.0,787.3 L1121.0,787.5 L1123.0,787.6 L1125.0,787.5 L1127.0,787.5 L1129.0,787.4 L1131.0,787.4 L1133.0,787.5 L1135.0,787.6 L1137.0,787.5 L1139.0,787.3 L1141.0,787.2 L1143.0,787.4 L1145.0,787.5 L1147.0,787.3 L1149.0,787.2 L1151.0,787.6 L1153.0,787.8 L1155.0,787.4 L1157.0,787.3 L1159.0,787.0 L1161.0,786.6 L1163.0,786.7 L1165.0,787.0 L1167.0,787.1 L1169.0,786.9 L1171.0,786.7 L1173.0,786.7 L1175.0,786.7 L1177.0,786.7 L1179.0,786.5 L1181.0,786.4 L1183.0,786.6 L1185.0,787.0 L1187.0,787.2 L1189.0,787.1 L1191.0,787.0 L1193.0,787.1 L1195.0,787.2 L1197.0,787.3 L1199.0,787.2 L1201.0,786.9 L1203.0,786.9 L1205.0,787.0 L1207.0,787.0 L1209.0,787.0 L1211.0,786.7 L1213.0,786.5 L1215.0,786.6 L1217.0,786.7 L1219.0,787.1 L1221.0,787.1 L1223.0,787.1 L1225.0,787.5 L1227.0,787.8 L1229.0,787.9 L1231.0,788.2 L1233.0,788.2 L1235.0,787.9 L1237.0,788.1 L1239.0,788.3 L1241.0,788.3 L1243.0,788.4 L1245.0,788.2 L1246.5,788.2" fill="none" stroke="#f5222e" stroke-width="4.4" stroke-linejoin="round" stroke-linecap="butt"/>
<defs><linearGradient id="g56" gradientUnits="userSpaceOnUse" x1="1128" y1="0" x2="1142" y2="0"><stop offset="0" stop-color="#2a2676"/><stop offset="1" stop-color="#67648c"/></linearGradient></defs>
<path d="M263.0,704.8 L265.0,705.0 L267.0,705.3 L269.0,705.3 L271.0,705.7 L273.0,706.2 L275.0,706.5 L277.0,706.5 L279.0,706.4 L281.0,706.5 L283.0,706.8 L285.0,707.0 L287.0,707.1 L289.0,707.3 L291.0,707.4 L293.0,707.3 L295.0,707.5 L297.0,707.6 L299.0,707.6 L301.0,707.8 L303.0,707.8 L305.0,707.7 L307.0,707.8 L309.0,708.0 L311.0,708.1 L313.0,708.2 L315.0,708.1 L317.0,708.1 L319.0,708.1 L321.0,708.2 L323.0,707.9 L325.0,707.7 L327.0,708.1 L329.0,708.0 L331.0,707.8 L333.0,707.8 L335.0,708.0 L337.0,708.4 L339.0,708.1 L341.0,707.7 L343.0,707.8 L345.0,708.0 L347.0,708.0 L349.0,707.5 L351.0,707.2 L353.0,707.4 L355.0,707.5 L357.0,707.2 L359.0,707.0 L361.0,707.4 L363.0,707.5 L365.0,707.2 L367.0,707.2 L369.0,707.4 L371.0,707.6 L373.0,707.4 L375.0,707.2 L377.0,707.3 L379.0,707.2 L381.0,707.0 L383.0,707.0 L385.0,706.8 L387.0,706.8 L389.0,707.2 L391.0,707.1 L393.0,706.9 L395.0,706.9 L397.0,706.7 L399.0,706.6 L401.0,706.9 L403.0,707.0 L405.0,707.3 L407.0,707.4 L409.0,707.3 L411.0,707.4 L413.0,707.4 L415.0,707.2 L417.0,707.2 L419.0,707.3 L421.0,707.6 L423.0,707.6 L425.0,707.4 L427.0,707.2 L429.0,707.3 L431.0,707.4 L433.0,707.6 L435.0,707.5 L437.0,707.4 L439.0,707.6 L441.0,707.6 L443.0,707.5 L445.0,707.5 L447.0,707.3 L449.0,707.1 L451.0,707.0 L453.0,706.8 L455.0,706.7 L457.0,706.9 L459.0,707.1 L461.0,707.0 L463.0,706.7 L465.0,706.6 L467.0,706.2 L469.0,705.7 L471.0,705.1 L473.0,704.4 L475.0,703.6 L477.0,702.1 L479.0,700.8 L481.0,699.9 L483.0,698.8 L485.0,697.2 L487.0,695.6 L489.0,694.6 L491.0,693.4 L493.0,692.1 L495.0,691.1 L497.0,690.5 L499.0,690.3 L501.0,690.4 L503.0,690.5 L505.0,690.9 L507.0,691.4 L509.0,691.3 L511.0,691.1 L513.0,691.2 L515.0,691.2 L517.0,691.2 L519.0,691.3 L521.0,691.3 L523.0,691.4 L525.0,692.2 L527.0,693.2 L529.0,693.6 L531.0,694.1 L533.0,694.6 L535.0,694.8 L537.0,694.8 L539.0,695.1 L541.0,695.6 L543.0,695.8 L545.0,695.6 L547.0,695.6 L549.0,695.7 L551.0,695.2 L553.0,694.0 L555.0,693.0 L557.0,692.6 L559.0,692.7 L561.0,693.2 L563.0,693.8 L565.0,694.8 L567.0,695.6 L569.0,696.0 L571.0,696.1 L573.0,695.5 L575.0,694.4 L577.0,693.0 L579.0,691.5 L581.0,690.4 L583.0,689.7 L585.0,689.5 L587.0,689.6 L589.0,689.5 L591.0,689.8 L593.0,690.6 L595.0,691.2 L597.0,691.0 L599.0,689.0 L601.0,686.9 L603.0,686.5 L605.0,686.4 L607.0,686.6 L609.0,687.3 L611.0,687.4 L613.0,687.3 L615.0,683.5 L617.0,677.3 L619.0,676.3 L621.0,675.8 L623.0,675.2 L625.0,674.7 L627.0,674.8 L629.0,674.4 L631.0,673.6 L633.0,672.7 L635.0,671.4 L637.0,668.3 L639.0,664.3 L641.0,659.8 L643.0,654.5 L645.0,650.1 L647.0,646.2 L649.0,642.4 L651.0,638.7 L653.0,634.9 L655.0,631.0 L657.0,626.8 L659.0,622.2 L661.0,618.1 L663.0,614.3 L665.0,609.7 L667.0,607.1 L669.0,605.7 L671.0,606.2 L673.0,608.7 L675.0,610.4 L677.0,611.8 L679.0,610.1 L681.0,608.4 L683.0,607.6 L685.0,607.4 L687.0,608.2 L689.0,612.4 L691.0,621.7 L693.0,629.6 L695.0,639.6 L697.0,651.3 L699.0,655.8 L701.0,658.0 L703.0,659.3 L705.0,660.7 L707.0,662.7 L709.0,666.2 L711.0,671.9 L713.0,677.2 L715.0,681.6 L717.0,684.1 L719.0,685.5 L721.0,686.0 L723.0,686.6 L725.0,686.8 L727.0,686.7 L729.0,687.7 L731.0,689.3 L733.0,690.4 L735.0,691.8 L737.0,693.0 L739.0,693.3 L741.0,693.4 L743.0,693.5 L745.0,693.4 L747.0,693.4 L749.0,693.3 L751.0,693.2 L753.0,693.1 L755.0,693.1 L757.0,693.2 L759.0,693.1 L761.0,693.0 L763.0,692.7 L765.0,692.4 L767.0,692.2 L769.0,692.2 L771.0,693.0 L773.0,693.8 L775.0,694.7 L777.0,695.8 L779.0,696.6 L781.0,697.2 L783.0,697.6 L785.0,697.5 L787.0,697.3 L789.0,697.5 L791.0,697.4 L793.0,696.9 L795.0,696.4 L797.0,696.0 L799.0,695.9 L801.0,696.0 L803.0,695.7 L805.0,695.2 L807.0,695.2 L809.0,695.2 L811.0,694.7 L813.0,694.4 L815.0,694.4 L817.0,694.1 L819.0,693.6 L821.0,693.1 L823.0,692.6 L825.0,692.4 L827.0,692.3 L829.0,692.2 L831.0,692.1 L833.0,691.9 L835.0,691.7 L837.0,691.3 L839.0,690.8 L841.0,690.4 L843.0,690.4 L845.0,690.3 L847.0,690.2 L849.0,690.1 L851.0,689.8 L853.0,689.8 L855.0,689.9 L857.0,690.0 L859.0,689.9 L861.0,690.1 L863.0,690.1 L865.0,690.2 L867.0,690.7 L869.0,691.2 L871.0,691.4 L873.0,691.9 L875.0,692.5 L877.0,692.7 L879.0,692.9 L881.0,693.8 L883.0,694.6 L885.0,695.3 L887.0,696.5 L889.0,697.5 L891.0,698.3 L893.0,698.8 L895.0,699.2 L897.0,699.2 L899.0,699.4 L901.0,699.9 L903.0,700.3 L905.0,700.3 L907.0,700.2 L909.0,700.5 L911.0,700.9 L913.0,701.0 L915.0,700.8 L917.0,701.0 L919.0,701.2 L921.0,701.3 L923.0,701.9 L925.0,702.6 L927.0,702.9 L929.0,703.3 L931.0,704.1 L933.0,704.7 L935.0,705.0 L937.0,705.1 L939.0,705.6 L941.0,706.1 L943.0,706.1 L945.0,706.4 L947.0,707.0 L949.0,707.3 L951.0,706.9 L953.0,706.7 L955.0,707.0 L957.0,707.5 L959.0,708.0 L961.0,708.3 L963.0,708.3 L965.0,708.4 L967.0,708.5 L969.0,708.6 L971.0,708.8 L973.0,709.2 L975.0,709.7 L977.0,709.6 L979.0,709.2 L981.0,709.1 L983.0,709.2 L985.0,709.2 L987.0,709.3 L989.0,709.7 L991.0,710.0 L993.0,709.9 L995.0,709.8 L997.0,709.8 L999.0,710.0 L1001.0,710.3 L1003.0,710.7 L1005.0,710.9 L1007.0,711.0 L1009.0,711.2 L1011.0,711.2 L1013.0,711.0 L1015.0,710.7 L1017.0,710.8 L1019.0,710.5 L1021.0,709.6 L1023.0,709.3 L1025.0,709.6 L1027.0,710.1 L1029.0,710.7 L1031.0,711.4 L1033.0,712.0 L1035.0,712.0 L1037.0,711.5 L1039.0,711.2 L1041.0,710.9 L1043.0,710.4 L1045.0,710.3 L1047.0,710.5 L1049.0,710.7 L1051.0,711.0 L1053.0,711.7 L1055.0,712.0 L1057.0,712.2 L1059.0,712.4 L1061.0,712.4 L1063.0,712.4 L1065.0,712.7 L1067.0,713.1 L1069.0,713.3 L1071.0,713.5 L1073.0,713.6 L1075.0,713.6 L1077.0,713.9 L1079.0,714.2 L1081.0,714.4 L1083.0,714.3 L1085.0,713.6 L1087.0,712.7 L1089.0,711.9 L1091.0,711.7 L1093.0,711.7 L1095.0,711.5 L1097.0,711.6 L1099.0,711.7 L1101.0,711.8 L1103.0,711.8 L1105.0,711.7 L1107.0,711.7 L1109.0,711.8 L1111.0,711.6 L1113.0,711.9 L1115.0,712.0 L1117.0,711.6 L1119.0,711.8 L1121.0,712.1 L1123.0,712.2 L1125.0,712.4 L1127.0,712.2 L1129.0,712.5 L1131.0,712.9 L1133.0,712.7 L1135.0,712.5 L1137.0,712.3 L1139.0,712.2 L1141.0,712.1 L1143.0,711.9 L1145.0,711.8 L1147.0,711.8 L1149.0,711.5 L1151.0,711.4 L1153.0,711.5 L1155.0,711.5 L1157.0,711.7 L1159.0,711.6 L1161.0,711.3 L1163.0,711.4 L1165.0,711.4 L1167.0,711.4 L1169.0,711.5 L1171.0,711.6 L1173.0,711.7 L1175.0,711.8 L1177.0,711.9 L1179.0,712.0 L1181.0,712.1 L1183.0,712.0 L1185.0,711.9 L1187.0,712.1 L1189.0,712.6 L1191.0,713.1 L1193.0,713.4 L1195.0,713.4 L1197.0,713.2 L1199.0,713.2 L1201.0,713.4 L1203.0,713.7 L1205.0,714.0 L1207.0,714.0 L1209.0,713.7 L1211.0,713.8 L1213.0,714.2 L1215.0,714.2 L1217.0,714.2 L1219.0,714.3 L1221.0,714.1 L1223.0,713.9 L1225.0,713.7 L1227.0,713.7 L1229.0,713.8 L1231.0,713.7 L1233.0,713.6 L1235.0,713.7 L1237.0,713.8 L1239.0,713.7 L1241.0,713.3 L1243.0,713.1 L1245.0,713.0 L1246.5,712.9" fill="none" stroke="url(#g56)" stroke-width="4.4" stroke-linejoin="round" stroke-linecap="butt"/>
<path d="M263.0,636.4 L265.0,636.9 L267.0,637.7 L269.0,638.4 L271.0,638.8 L273.0,639.1 L275.0,639.3 L277.0,639.6 L279.0,640.1 L281.0,640.2 L283.0,639.9 L285.0,640.1 L287.0,640.3 L289.0,640.1 L291.0,639.8 L293.0,639.2 L295.0,639.2 L297.0,639.6 L299.0,639.2 L301.0,638.7 L303.0,638.8 L305.0,638.5 L307.0,638.0 L309.0,637.9 L311.0,638.2 L313.0,638.7 L315.0,638.9 L317.0,639.0 L319.0,639.2 L321.0,639.1 L323.0,638.9 L325.0,639.1 L327.0,639.2 L329.0,639.3 L331.0,639.6 L333.0,639.9 L335.0,639.9 L337.0,639.9 L339.0,640.5 L341.0,641.0 L343.0,640.7 L345.0,640.7 L347.0,641.3 L349.0,641.8 L351.0,641.8 L353.0,641.9 L355.0,642.2 L357.0,642.1 L359.0,642.0 L361.0,642.2 L363.0,642.5 L365.0,642.7 L367.0,642.5 L369.0,642.3 L371.0,642.0 L373.0,641.7 L375.0,641.2 L377.0,640.3 L379.0,639.9 L381.0,639.7 L383.0,639.2 L385.0,638.9 L387.0,638.7 L389.0,638.3 L391.0,638.2 L393.0,638.1 L395.0,637.7 L397.0,638.2 L399.0,638.7 L401.0,638.5 L403.0,638.4 L405.0,638.9 L407.0,639.1 L409.0,638.9 L411.0,639.1 L413.0,639.5 L415.0,639.8 L417.0,640.2 L419.0,640.3 L421.0,640.4 L423.0,640.6 L425.0,640.6 L427.0,640.8 L429.0,641.0 L431.0,641.0 L433.0,641.1 L435.0,641.4 L437.0,641.1 L439.0,640.8 L441.0,640.8 L443.0,640.6 L445.0,640.5 L447.0,640.3 L449.0,640.1 L451.0,639.8 L453.0,639.6 L455.0,639.7 L457.0,639.7 L459.0,639.2 L461.0,639.3 L463.0,639.5 L465.0,639.2 L467.0,639.4 L469.0,639.9 L471.0,640.1 L473.0,640.2 L475.0,640.2 L477.0,640.0 L479.0,640.1 L481.0,640.4 L483.0,640.5 L485.0,640.4 L487.0,640.4 L489.0,640.6 L491.0,640.9 L493.0,640.8 L495.0,640.5 L497.0,640.5 L499.0,640.8 L501.0,640.8 L503.0,640.8 L505.0,640.8 L507.0,641.1 L509.0,641.5 L511.0,641.7 L513.0,641.9 L515.0,642.1 L517.0,642.3 L519.0,642.7 L521.0,642.7 L523.0,642.3 L525.0,641.9 L527.0,641.7 L529.0,642.1 L531.0,642.7 L533.0,642.8 L535.0,642.5 L537.0,642.4 L539.0,642.0 L541.0,641.1 L543.0,640.2 L545.0,639.7 L547.0,639.3 L549.0,638.7 L551.0,637.9 L553.0,637.2 L555.0,637.0 L557.0,636.7 L559.0,636.4 L561.0,636.3 L563.0,636.1 L565.0,635.6 L567.0,635.0 L569.0,634.9 L571.0,635.1 L573.0,634.6 L575.0,633.4 L577.0,632.1 L579.0,631.0 L581.0,629.9 L583.0,629.0 L585.0,628.8 L587.0,629.4 L589.0,630.2 L591.0,631.1 L593.0,632.4 L595.0,633.9 L597.0,635.1 L599.0,635.1 L601.0,634.0 L603.0,632.5 L605.0,630.9 L607.0,630.0 L609.0,630.3 L611.0,631.1 L613.0,631.9 L615.0,632.5 L617.0,633.3 L619.0,634.3 L621.0,634.5 L623.0,634.4 L625.0,634.6 L627.0,635.1 L629.0,635.4 L631.0,635.8 L633.0,636.7 L635.0,637.4 L637.0,637.6 L639.0,637.0 L641.0,635.8 L643.0,634.5 L645.0,633.4 L647.0,632.9 L649.0,633.5 L651.0,634.6 L653.0,635.4 L655.0,636.9 L657.0,638.6 L659.0,639.8 L661.0,640.1 L663.0,639.3 L665.0,638.1 L667.0,637.0 L669.0,636.3 L671.0,636.1 L673.0,636.4 L675.0,636.7 L677.0,636.7 L679.0,636.2 L681.0,635.2 L683.0,634.1 L685.0,633.7 L687.0,633.1 L689.0,632.6 L691.0,632.5 L693.0,632.6 L695.0,632.7 L697.0,632.9 L699.0,632.8 L701.0,632.5 L703.0,631.8 L705.0,630.1 L707.0,627.8 L709.0,625.8 L711.0,624.6 L713.0,624.3 L715.0,624.2 L717.0,624.2 L719.0,624.0 L721.0,623.5 L723.0,622.6 L725.0,620.4 L727.0,617.5 L729.0,612.2 L731.0,608.9 L733.0,607.8 L735.0,606.5 L737.0,602.5 L739.0,597.5 L741.0,594.3 L743.0,592.6 L745.0,591.1 L747.0,588.3 L749.0,584.7 L751.0,579.9 L753.0,571.9 L755.0,563.5 L757.0,560.3 L759.0,559.8 L761.0,562.3 L763.0,567.2 L765.0,568.6 L767.0,567.3 L769.0,561.3 L771.0,555.5 L773.0,552.5 L775.0,552.1 L777.0,555.8 L779.0,562.1 L781.0,571.7 L783.0,579.9 L785.0,583.2 L787.0,585.2 L789.0,586.7 L791.0,587.8 L793.0,588.8 L795.0,590.0 L797.0,591.4 L799.0,593.9 L801.0,597.6 L803.0,601.8 L805.0,606.6 L807.0,610.7 L809.0,613.4 L811.0,615.5 L813.0,617.6 L815.0,619.8 L817.0,621.9 L819.0,623.5 L821.0,624.6 L823.0,625.6 L825.0,626.8 L827.0,628.0 L829.0,628.9 L831.0,629.7 L833.0,630.9 L835.0,631.9 L837.0,632.6 L839.0,633.2 L841.0,633.6 L843.0,634.0 L845.0,635.0 L847.0,636.1 L849.0,636.7 L851.0,637.1 L853.0,637.7 L855.0,638.3 L857.0,639.1 L859.0,639.7 L861.0,640.1 L863.0,640.8 L865.0,641.1 L867.0,641.3 L869.0,641.8 L871.0,642.3 L873.0,642.5 L875.0,642.4 L877.0,642.4 L879.0,642.5 L881.0,642.0 L883.0,641.8 L885.0,642.0 L887.0,642.0 L889.0,641.4 L891.0,640.9 L893.0,641.0 L895.0,641.3 L897.0,641.6 L899.0,641.6 L901.0,641.5 L903.0,641.6 L905.0,641.9 L907.0,642.2 L909.0,642.4 L911.0,642.4 L913.0,642.2 L915.0,641.9 L917.0,642.0 L919.0,641.9 L921.0,641.0 L923.0,640.0 L925.0,639.3 L927.0,638.9 L929.0,638.9 L931.0,639.4 L933.0,640.2 L935.0,641.2 L937.0,641.8 L939.0,642.1 L941.0,642.1 L943.0,641.9 L945.0,641.9 L947.0,642.0 L949.0,642.1 L951.0,641.9 L953.0,641.4 L955.0,641.3 L957.0,641.2 L959.0,640.6 L961.0,640.1 L963.0,640.0 L965.0,639.9 L967.0,639.9 L969.0,640.3 L971.0,640.4 L973.0,640.3 L975.0,640.8 L977.0,641.5 L979.0,642.0 L981.0,642.6 L983.0,643.3 L985.0,643.9 L987.0,644.3 L989.0,644.6 L991.0,644.9 L993.0,645.0 L995.0,644.9 L997.0,644.5 L999.0,643.7 L1001.0,642.9 L1003.0,642.0 L1005.0,641.3 L1007.0,641.1 L1009.0,641.8 L1011.0,643.3 L1013.0,644.6 L1015.0,645.8 L1017.0,646.6 L1019.0,646.5 L1021.0,646.3 L1023.0,646.5 L1025.0,646.4 L1027.0,646.1 L1029.0,646.1 L1031.0,645.8 L1033.0,645.8 L1035.0,646.1 L1037.0,646.5 L1039.0,647.3 L1041.0,648.1 L1043.0,648.0 L1045.0,647.3 L1047.0,646.6 L1049.0,645.7 L1051.0,645.0 L1053.0,645.6 L1055.0,647.2 L1057.0,648.4 L1059.0,648.9 L1061.0,649.0 L1063.0,649.1 L1065.0,649.1 L1067.0,649.2 L1069.0,649.0 L1071.0,648.7 L1073.0,648.2 L1075.0,647.8 L1077.0,647.7 L1079.0,647.7 L1081.0,647.5 L1083.0,647.3 L1085.0,647.4 L1087.0,647.8 L1089.0,647.9 L1091.0,647.4 L1093.0,647.2 L1095.0,647.2 L1097.0,647.3 L1099.0,647.2 L1101.0,647.0 L1103.0,646.9 L1105.0,646.7 L1107.0,646.7 L1109.0,646.7 L1111.0,646.7 L1113.0,646.8 L1115.0,646.9 L1117.0,646.9 L1119.0,646.9 L1121.0,646.7 L1123.0,646.6 L1125.0,646.6 L1127.0,646.6 L1129.0,646.8 L1131.0,647.2 L1133.0,647.4 L1135.0,647.5 L1137.0,648.0 L1139.0,648.5 L1141.0,648.8 L1143.0,648.7 L1145.0,648.3 L1147.0,648.2 L1149.0,647.9 L1151.0,647.4 L1153.0,647.4 L1155.0,648.1 L1157.0,649.1 L1159.0,650.3 L1161.0,650.8 L1163.0,650.0 L1165.0,648.6 L1167.0,647.1 L1169.0,646.5 L1171.0,646.7 L1173.0,647.2 L1175.0,647.9 L1177.0,648.2 L1179.0,648.5 L1181.0,648.8 L1183.0,649.5 L1185.0,650.2 L1187.0,650.3 L1189.0,650.4 L1191.0,650.6 L1193.0,650.6 L1195.0,649.9 L1197.0,648.7 L1199.0,648.1 L1201.0,647.6 L1203.0,647.2 L1205.0,647.2 L1207.0,647.6 L1209.0,647.7 L1211.0,647.2 L1213.0,647.1 L1215.0,647.6 L1217.0,647.9 L1219.0,647.9 L1221.0,648.6 L1223.0,650.1 L1225.0,651.2 L1227.0,651.8 L1229.0,651.5 L1231.0,650.4 L1233.0,649.4 L1235.0,648.9 L1237.0,648.4 L1239.0,647.8 L1241.0,647.9 L1243.0,648.5 L1245.0,648.2 L1246.5,647.9" fill="none" stroke="#82308e" stroke-width="4.4" stroke-linejoin="round" stroke-linecap="butt"/>
<path d="M263.0,577.5 L265.0,577.9 L267.0,578.2 L269.0,578.5 L271.0,578.8 L273.0,579.2 L275.0,579.4 L277.0,579.5 L279.0,579.7 L281.0,580.0 L283.0,580.3 L285.0,580.2 L287.0,580.0 L289.0,580.0 L291.0,580.0 L293.0,579.9 L295.0,579.9 L297.0,579.9 L299.0,579.6 L301.0,579.1 L303.0,578.9 L305.0,579.0 L307.0,579.0 L309.0,578.6 L311.0,578.2 L313.0,578.3 L315.0,578.8 L317.0,579.3 L319.0,579.2 L321.0,579.1 L323.0,579.3 L325.0,579.5 L327.0,579.6 L329.0,579.8 L331.0,579.7 L333.0,579.5 L335.0,579.5 L337.0,579.8 L339.0,580.3 L341.0,581.0 L343.0,581.6 L345.0,582.0 L347.0,582.3 L349.0,582.5 L351.0,582.8 L353.0,583.2 L355.0,583.6 L357.0,583.6 L359.0,583.5 L361.0,583.6 L363.0,583.7 L365.0,583.7 L367.0,584.0 L369.0,584.0 L371.0,583.5 L373.0,582.9 L375.0,582.6 L377.0,582.7 L379.0,582.5 L381.0,582.2 L383.0,582.4 L385.0,582.2 L387.0,581.5 L389.0,580.7 L391.0,580.1 L393.0,579.7 L395.0,579.2 L397.0,579.5 L399.0,580.0 L401.0,580.0 L403.0,580.0 L405.0,580.0 L407.0,580.1 L409.0,580.6 L411.0,580.9 L413.0,581.1 L415.0,581.7 L417.0,582.3 L419.0,582.3 L421.0,582.0 L423.0,582.0 L425.0,582.4 L427.0,583.0 L429.0,583.3 L431.0,583.1 L433.0,582.4 L435.0,581.7 L437.0,581.2 L439.0,580.4 L441.0,579.5 L443.0,579.1 L445.0,579.0 L447.0,578.8 L449.0,578.3 L451.0,578.2 L453.0,578.5 L455.0,578.8 L457.0,578.8 L459.0,578.8 L461.0,578.9 L463.0,579.2 L465.0,579.2 L467.0,579.2 L469.0,579.0 L471.0,579.2 L473.0,579.4 L475.0,579.2 L477.0,579.3 L479.0,579.7 L481.0,580.2 L483.0,580.3 L485.0,580.5 L487.0,580.4 L489.0,580.3 L491.0,580.4 L493.0,580.9 L495.0,581.6 L497.0,581.9 L499.0,582.1 L501.0,582.3 L503.0,582.3 L505.0,582.4 L507.0,582.6 L509.0,582.7 L511.0,582.7 L513.0,582.7 L515.0,582.5 L517.0,582.3 L519.0,582.2 L521.0,582.4 L523.0,582.4 L525.0,582.1 L527.0,582.5 L529.0,583.0 L531.0,582.6 L533.0,582.2 L535.0,582.3 L537.0,582.0 L539.0,581.1 L541.0,580.2 L543.0,579.4 L545.0,579.1 L547.0,579.3 L549.0,578.7 L551.0,578.1 L553.0,578.0 L555.0,578.1 L557.0,578.2 L559.0,578.1 L561.0,577.7 L563.0,577.4 L565.0,577.5 L567.0,577.3 L569.0,576.9 L571.0,576.5 L573.0,575.8 L575.0,574.7 L577.0,573.2 L579.0,571.5 L581.0,570.3 L583.0,569.2 L585.0,568.5 L587.0,568.8 L589.0,570.3 L591.0,572.2 L593.0,573.5 L595.0,574.4 L597.0,574.4 L599.0,574.0 L601.0,573.2 L603.0,572.1 L605.0,571.0 L607.0,570.6 L609.0,571.0 L611.0,571.7 L613.0,572.2 L615.0,572.8 L617.0,573.8 L619.0,574.9 L621.0,575.1 L623.0,575.1 L625.0,575.1 L627.0,575.0 L629.0,575.3 L631.0,575.4 L633.0,575.3 L635.0,575.3 L637.0,575.3 L639.0,575.4 L641.0,575.7 L643.0,576.0 L645.0,576.1 L647.0,576.5 L649.0,576.7 L651.0,577.1 L653.0,578.2 L655.0,579.0 L657.0,579.5 L659.0,579.7 L661.0,579.6 L663.0,579.6 L665.0,579.7 L667.0,579.3 L669.0,578.4 L671.0,577.7 L673.0,577.2 L675.0,576.6 L677.0,576.2 L679.0,575.5 L681.0,574.8 L683.0,574.9 L685.0,574.7 L687.0,574.1 L689.0,574.0 L691.0,573.9 L693.0,573.6 L695.0,573.0 L697.0,572.4 L699.0,572.3 L701.0,571.9 L703.0,571.1 L705.0,569.9 L707.0,568.3 L709.0,566.7 L711.0,565.6 L713.0,564.8 L715.0,564.3 L717.0,563.8 L719.0,563.2 L721.0,562.8 L723.0,562.0 L725.0,560.6 L727.0,558.2 L729.0,555.6 L731.0,553.3 L733.0,550.7 L735.0,548.0 L737.0,545.9 L739.0,544.1 L741.0,540.9 L743.0,536.3 L745.0,533.2 L747.0,530.5 L749.0,527.0 L751.0,522.1 L753.0,513.6 L755.0,503.2 L757.0,500.4 L759.0,501.9 L761.0,505.2 L763.0,507.9 L765.0,507.8 L767.0,506.5 L769.0,500.6 L771.0,495.5 L773.0,493.9 L775.0,493.9 L777.0,496.0 L779.0,500.0 L781.0,509.6 L783.0,520.0 L785.0,525.4 L787.0,528.5 L789.0,530.0 L791.0,531.1 L793.0,532.1 L795.0,533.7 L797.0,535.8 L799.0,538.1 L801.0,541.4 L803.0,545.3 L805.0,550.0 L807.0,553.8 L809.0,555.3 L811.0,556.4 L813.0,557.3 L815.0,558.2 L817.0,559.1 L819.0,560.1 L821.0,561.7 L823.0,564.9 L825.0,568.1 L827.0,570.2 L829.0,570.1 L831.0,570.0 L833.0,570.4 L835.0,570.9 L837.0,572.2 L839.0,574.2 L841.0,575.5 L843.0,576.5 L845.0,577.6 L847.0,578.7 L849.0,579.6 L851.0,579.9 L853.0,580.5 L855.0,581.0 L857.0,580.9 L859.0,581.4 L861.0,582.2 L863.0,582.7 L865.0,583.2 L867.0,583.6 L869.0,583.5 L871.0,583.1 L873.0,583.0 L875.0,583.4 L877.0,583.5 L879.0,583.5 L881.0,583.3 L883.0,583.2 L885.0,583.5 L887.0,583.5 L889.0,583.0 L891.0,582.4 L893.0,582.2 L895.0,582.2 L897.0,582.0 L899.0,581.9 L901.0,582.0 L903.0,582.0 L905.0,581.8 L907.0,581.7 L909.0,581.8 L911.0,581.3 L913.0,580.7 L915.0,580.8 L917.0,581.3 L919.0,581.5 L921.0,581.6 L923.0,582.0 L925.0,582.6 L927.0,583.3 L929.0,583.6 L931.0,583.5 L933.0,583.2 L935.0,582.6 L937.0,581.5 L939.0,580.5 L941.0,580.1 L943.0,580.0 L945.0,580.1 L947.0,580.4 L949.0,580.7 L951.0,580.7 L953.0,580.6 L955.0,580.6 L957.0,581.0 L959.0,581.7 L961.0,582.1 L963.0,582.2 L965.0,582.0 L967.0,582.1 L969.0,582.7 L971.0,583.0 L973.0,583.1 L975.0,583.4 L977.0,583.8 L979.0,583.9 L981.0,583.9 L983.0,584.4 L985.0,584.5 L987.0,584.8 L989.0,585.3 L991.0,585.3 L993.0,584.8 L995.0,584.4 L997.0,584.4 L999.0,584.2 L1001.0,583.4 L1003.0,582.7 L1005.0,582.3 L1007.0,582.3 L1009.0,583.1 L1011.0,584.5 L1013.0,585.6 L1015.0,586.4 L1017.0,586.8 L1019.0,586.8 L1021.0,586.4 L1023.0,586.2 L1025.0,586.2 L1027.0,585.8 L1029.0,585.3 L1031.0,585.1 L1033.0,585.3 L1035.0,585.9 L1037.0,587.0 L1039.0,588.4 L1041.0,589.1 L1043.0,589.0 L1045.0,587.9 L1047.0,586.5 L1049.0,585.3 L1051.0,585.1 L1053.0,585.5 L1055.0,586.4 L1057.0,587.4 L1059.0,588.1 L1061.0,588.5 L1063.0,588.7 L1065.0,588.6 L1067.0,588.8 L1069.0,589.0 L1071.0,588.9 L1073.0,588.7 L1075.0,588.8 L1077.0,588.5 L1079.0,588.1 L1081.0,588.1 L1083.0,588.0 L1085.0,587.8 L1087.0,587.6 L1089.0,587.3 L1091.0,587.4 L1093.0,587.7 L1095.0,587.8 L1097.0,587.7 L1099.0,587.7 L1101.0,588.1 L1103.0,588.2 L1105.0,588.2 L1107.0,588.0 L1109.0,587.7 L1111.0,587.6 L1113.0,587.7 L1115.0,587.6 L1117.0,587.7 L1119.0,588.0 L1121.0,587.6 L1123.0,587.1 L1125.0,587.2 L1127.0,587.3 L1129.0,587.2 L1131.0,587.5 L1133.0,588.0 L1135.0,588.6 L1137.0,589.4 L1139.0,590.2 L1141.0,590.4 L1143.0,589.8 L1145.0,589.1 L1147.0,588.0 L1149.0,587.3 L1151.0,587.1 L1153.0,587.2 L1155.0,587.6 L1157.0,588.6 L1159.0,589.8 L1161.0,591.0 L1163.0,591.3 L1165.0,590.1 L1167.0,588.3 L1169.0,586.9 L1171.0,586.4 L1173.0,586.8 L1175.0,587.6 L1177.0,588.2 L1179.0,588.8 L1181.0,589.3 L1183.0,589.9 L1185.0,590.3 L1187.0,589.9 L1189.0,589.4 L1191.0,589.2 L1193.0,588.6 L1195.0,588.1 L1197.0,587.7 L1199.0,587.2 L1201.0,586.9 L1203.0,586.9 L1205.0,587.3 L1207.0,587.5 L1209.0,587.3 L1211.0,587.4 L1213.0,587.8 L1215.0,588.4 L1217.0,588.8 L1219.0,589.2 L1221.0,590.0 L1223.0,590.5 L1225.0,590.9 L1227.0,591.6 L1229.0,592.1 L1231.0,591.7 L1233.0,590.8 L1235.0,590.1 L1237.0,589.3 L1239.0,588.4 L1241.0,588.5 L1243.0,589.1 L1245.0,589.1 L1246.5,589.3" fill="none" stroke="#76282a" stroke-width="4.4" stroke-linejoin="round" stroke-linecap="butt"/>
<path d="M263.0,498.1 L265.0,497.9 L267.0,498.1 L269.0,498.3 L271.0,498.3 L273.0,498.3 L275.0,498.3 L277.0,498.4 L279.0,498.7 L281.0,499.0 L283.0,499.0 L285.0,498.8 L287.0,499.0 L289.0,500.0 L291.0,500.7 L293.0,500.7 L295.0,500.6 L297.0,500.6 L299.0,500.0 L301.0,498.5 L303.0,497.0 L305.0,496.0 L307.0,495.4 L309.0,495.2 L311.0,495.6 L313.0,496.7 L315.0,498.3 L317.0,499.6 L319.0,500.4 L321.0,501.1 L323.0,502.2 L325.0,503.6 L327.0,504.8 L329.0,506.0 L331.0,507.1 L333.0,507.9 L335.0,508.6 L337.0,508.8 L339.0,508.5 L341.0,507.9 L343.0,506.8 L345.0,504.7 L347.0,503.0 L349.0,501.7 L351.0,500.4 L353.0,499.7 L355.0,499.8 L357.0,500.5 L359.0,501.3 L361.0,501.9 L363.0,502.5 L365.0,503.1 L367.0,503.6 L369.0,504.3 L371.0,505.1 L373.0,506.1 L375.0,507.4 L377.0,508.4 L379.0,509.3 L381.0,510.3 L383.0,510.8 L385.0,510.9 L387.0,510.6 L389.0,509.2 L391.0,507.3 L393.0,505.0 L395.0,502.6 L397.0,500.5 L399.0,499.1 L401.0,498.6 L403.0,498.8 L405.0,499.5 L407.0,500.5 L409.0,501.5 L411.0,502.7 L413.0,503.6 L415.0,504.0 L417.0,504.4 L419.0,504.8 L421.0,505.1 L423.0,505.2 L425.0,505.4 L427.0,505.4 L429.0,505.3 L431.0,504.9 L433.0,504.7 L435.0,504.6 L437.0,504.8 L439.0,505.0 L441.0,505.1 L443.0,505.0 L445.0,505.0 L447.0,505.2 L449.0,505.5 L451.0,506.0 L453.0,506.5 L455.0,506.9 L457.0,507.5 L459.0,508.3 L461.0,508.7 L463.0,508.7 L465.0,508.5 L467.0,507.9 L469.0,506.5 L471.0,505.1 L473.0,504.2 L475.0,503.6 L477.0,504.0 L479.0,505.2 L481.0,506.3 L483.0,507.3 L485.0,508.2 L487.0,508.9 L489.0,509.0 L491.0,508.7 L493.0,508.5 L495.0,508.6 L497.0,508.7 L499.0,508.5 L501.0,508.1 L503.0,507.7 L505.0,508.1 L507.0,508.4 L509.0,507.9 L511.0,507.1 L513.0,506.6 L515.0,506.3 L517.0,505.9 L519.0,505.6 L521.0,505.2 L523.0,505.0 L525.0,504.4 L527.0,503.4 L529.0,503.0 L531.0,502.6 L533.0,502.0 L535.0,501.8 L537.0,501.8 L539.0,501.4 L541.0,500.9 L543.0,500.9 L545.0,500.8 L547.0,500.2 L549.0,499.7 L551.0,499.2 L553.0,498.8 L555.0,498.9 L557.0,499.0 L559.0,499.3 L561.0,499.9 L563.0,500.1 L565.0,500.6 L567.0,501.0 L569.0,500.9 L571.0,500.8 L573.0,500.9 L575.0,500.9 L577.0,500.9 L579.0,500.8 L581.0,500.8 L583.0,500.6 L585.0,500.0 L587.0,499.5 L589.0,499.4 L591.0,499.1 L593.0,498.7 L595.0,498.8 L597.0,499.4 L599.0,501.2 L601.0,503.9 L603.0,506.4 L605.0,508.3 L607.0,509.6 L609.0,509.6 L611.0,508.0 L613.0,505.6 L615.0,503.3 L617.0,501.8 L619.0,501.7 L621.0,502.5 L623.0,504.2 L625.0,506.4 L627.0,507.6 L629.0,507.8 L631.0,507.6 L633.0,507.4 L635.0,507.1 L637.0,506.5 L639.0,505.7 L641.0,504.9 L643.0,504.5 L645.0,503.9 L647.0,503.1 L649.0,502.3 L651.0,501.7 L653.0,500.8 L655.0,499.6 L657.0,498.9 L659.0,498.8 L661.0,498.9 L663.0,498.9 L665.0,499.1 L667.0,499.5 L669.0,500.0 L671.0,500.5 L673.0,500.8 L675.0,501.1 L677.0,501.5 L679.0,502.2 L681.0,502.8 L683.0,503.1 L685.0,503.3 L687.0,503.2 L689.0,503.3 L691.0,503.9 L693.0,504.6 L695.0,505.2 L697.0,505.6 L699.0,506.0 L701.0,506.4 L703.0,506.5 L705.0,506.5 L707.0,507.2 L709.0,507.7 L711.0,507.6 L713.0,508.0 L715.0,508.7 L717.0,508.8 L719.0,508.9 L721.0,509.5 L723.0,510.9 L725.0,512.2 L727.0,513.6 L729.0,515.2 L731.0,516.6 L733.0,517.5 L735.0,517.3 L737.0,514.9 L739.0,511.8 L741.0,509.6 L743.0,508.7 L745.0,509.3 L747.0,510.9 L749.0,512.3 L751.0,512.3 L753.0,511.8 L755.0,511.0 L757.0,510.2 L759.0,509.7 L761.0,508.8 L763.0,507.3 L765.0,506.0 L767.0,504.7 L769.0,503.4 L771.0,502.4 L773.0,502.1 L775.0,503.0 L777.0,504.8 L779.0,506.6 L781.0,507.6 L783.0,508.3 L785.0,509.0 L787.0,509.2 L789.0,509.6 L791.0,510.2 L793.0,510.4 L795.0,509.5 L797.0,507.8 L799.0,506.2 L801.0,505.1 L803.0,504.9 L805.0,505.4 L807.0,505.5 L809.0,505.5 L811.0,505.7 L813.0,505.9 L815.0,506.0 L817.0,506.2 L819.0,506.0 L821.0,505.7 L823.0,505.9 L825.0,506.2 L827.0,505.8 L829.0,505.3 L831.0,504.9 L833.0,504.5 L835.0,503.9 L837.0,502.8 L839.0,501.5 L841.0,500.7 L843.0,500.2 L845.0,498.6 L847.0,495.5 L849.0,492.8 L851.0,490.2 L853.0,487.5 L855.0,485.8 L857.0,484.3 L859.0,482.9 L861.0,481.7 L863.0,480.5 L865.0,477.4 L867.0,471.5 L869.0,467.3 L871.0,464.6 L873.0,462.8 L875.0,463.0 L877.0,464.3 L879.0,466.4 L881.0,469.2 L883.0,470.7 L885.0,471.0 L887.0,471.3 L889.0,472.1 L891.0,472.8 L893.0,473.8 L895.0,476.8 L897.0,480.6 L899.0,484.8 L901.0,487.2 L903.0,488.5 L905.0,488.7 L907.0,488.7 L909.0,489.1 L911.0,490.2 L913.0,493.0 L915.0,495.4 L917.0,497.6 L919.0,499.8 L921.0,501.1 L923.0,502.0 L925.0,503.5 L927.0,505.6 L929.0,507.8 L931.0,509.5 L933.0,511.1 L935.0,512.6 L937.0,513.9 L939.0,515.4 L941.0,516.5 L943.0,516.9 L945.0,517.0 L947.0,517.1 L949.0,517.1 L951.0,516.9 L953.0,515.6 L955.0,513.9 L957.0,513.2 L959.0,513.2 L961.0,513.4 L963.0,513.7 L965.0,514.1 L967.0,514.7 L969.0,515.2 L971.0,515.4 L973.0,515.6 L975.0,515.9 L977.0,516.1 L979.0,516.3 L981.0,516.5 L983.0,516.4 L985.0,516.5 L987.0,516.6 L989.0,516.7 L991.0,517.0 L993.0,517.4 L995.0,517.6 L997.0,517.6 L999.0,517.8 L1001.0,518.4 L1003.0,519.2 L1005.0,519.8 L1007.0,520.1 L1009.0,520.5 L1011.0,520.9 L1013.0,520.9 L1015.0,520.7 L1017.0,519.6 L1019.0,517.7 L1021.0,515.8 L1023.0,514.8 L1025.0,514.1 L1027.0,513.7 L1029.0,513.5 L1031.0,513.4 L1033.0,513.8 L1035.0,514.7 L1037.0,515.8 L1039.0,517.0 L1041.0,517.9 L1043.0,517.6 L1045.0,516.6 L1047.0,515.5 L1049.0,514.3 L1051.0,513.2 L1053.0,512.3 L1055.0,511.2 L1057.0,510.2 L1059.0,509.9 L1061.0,509.8 L1063.0,509.9 L1065.0,510.4 L1067.0,511.3 L1069.0,512.5 L1071.0,514.0 L1073.0,516.0 L1075.0,517.5 L1077.0,518.0 L1079.0,518.4 L1081.0,519.0 L1083.0,519.7 L1085.0,520.3 L1087.0,520.8 L1089.0,521.3 L1091.0,521.7 L1093.0,521.8 L1095.0,521.8 L1097.0,521.8 L1099.0,521.4 L1101.0,519.6 L1103.0,517.1 L1105.0,514.5 L1107.0,512.8 L1109.0,512.8 L1111.0,512.4 L1113.0,512.2 L1115.0,512.2 L1117.0,512.0 L1119.0,511.9 L1121.0,511.9 L1123.0,512.1 L1125.0,512.4 L1127.0,512.7 L1129.0,512.9 L1131.0,514.1 L1133.0,515.9 L1135.0,517.7 L1137.0,519.0 L1139.0,519.4 L1141.0,518.9 L1143.0,518.5 L1145.0,518.4 L1147.0,518.1 L1149.0,517.8 L1151.0,518.8 L1153.0,520.3 L1155.0,522.1 L1157.0,524.0 L1159.0,525.4 L1161.0,525.7 L1163.0,524.9 L1165.0,523.6 L1167.0,521.9 L1169.0,520.8 L1171.0,520.5 L1173.0,520.2 L1175.0,520.3 L1177.0,520.4 L1179.0,520.0 L1181.0,519.6 L1183.0,519.9 L1185.0,521.2 L1187.0,522.8 L1189.0,524.0 L1191.0,524.3 L1193.0,523.7 L1195.0,522.6 L1197.0,521.2 L1199.0,519.9 L1201.0,518.8 L1203.0,518.4 L1205.0,518.5 L1207.0,519.0 L1209.0,519.9 L1211.0,521.3 L1213.0,522.3 L1215.0,522.9 L1217.0,523.6 L1219.0,524.4 L1221.0,524.8 L1223.0,524.9 L1225.0,524.5 L1227.0,524.1 L1229.0,524.2 L1231.0,524.5 L1233.0,524.6 L1235.0,524.6 L1237.0,525.0 L1239.0,525.7 L1241.0,526.3 L1243.0,526.5 L1245.0,527.1 L1246.5,528.0" fill="none" stroke="#fb9440" stroke-width="4.4" stroke-linejoin="round" stroke-linecap="butt"/>
<path d="M263.0,441.2 L265.0,442.5 L267.0,443.3 L269.0,443.4 L271.0,443.7 L273.0,444.1 L275.0,444.4 L277.0,444.7 L279.0,445.0 L281.0,444.8 L283.0,444.7 L285.0,444.0 L287.0,442.3 L289.0,441.0 L291.0,440.9 L293.0,441.5 L295.0,443.0 L297.0,445.0 L299.0,446.1 L301.0,446.5 L303.0,446.4 L305.0,445.5 L307.0,444.3 L309.0,443.3 L311.0,442.4 L313.0,442.1 L315.0,442.7 L317.0,443.3 L319.0,443.5 L321.0,443.3 L323.0,443.4 L325.0,443.7 L327.0,444.3 L329.0,445.0 L331.0,445.4 L333.0,445.8 L335.0,446.1 L337.0,446.2 L339.0,446.4 L341.0,446.7 L343.0,446.6 L345.0,446.0 L347.0,444.9 L349.0,443.6 L351.0,442.6 L353.0,442.3 L355.0,442.3 L357.0,442.4 L359.0,442.7 L361.0,442.9 L363.0,443.0 L365.0,443.3 L367.0,443.4 L369.0,443.3 L371.0,443.3 L373.0,443.1 L375.0,442.9 L377.0,442.2 L379.0,441.2 L381.0,441.0 L383.0,441.1 L385.0,440.8 L387.0,440.4 L389.0,440.1 L391.0,440.4 L393.0,441.8 L395.0,443.8 L397.0,445.2 L399.0,445.9 L401.0,446.1 L403.0,445.9 L405.0,445.5 L407.0,445.5 L409.0,445.8 L411.0,445.5 L413.0,444.9 L415.0,444.5 L417.0,443.9 L419.0,443.3 L421.0,443.2 L423.0,443.7 L425.0,444.3 L427.0,444.7 L429.0,444.8 L431.0,444.6 L433.0,444.8 L435.0,445.3 L437.0,445.7 L439.0,445.6 L441.0,445.9 L443.0,446.8 L445.0,447.3 L447.0,447.3 L449.0,447.4 L451.0,447.7 L453.0,447.5 L455.0,447.2 L457.0,446.6 L459.0,445.6 L461.0,444.6 L463.0,443.6 L465.0,442.7 L467.0,442.5 L469.0,442.7 L471.0,442.6 L473.0,442.9 L475.0,443.7 L477.0,444.7 L479.0,446.0 L481.0,447.3 L483.0,447.6 L485.0,447.5 L487.0,447.7 L489.0,447.8 L491.0,447.4 L493.0,447.0 L495.0,446.4 L497.0,446.2 L499.0,446.5 L501.0,446.6 L503.0,446.3 L505.0,446.1 L507.0,446.2 L509.0,446.6 L511.0,446.8 L513.0,446.5 L515.0,446.5 L517.0,447.1 L519.0,447.6 L521.0,447.7 L523.0,448.1 L525.0,448.4 L527.0,448.3 L529.0,447.7 L531.0,446.4 L533.0,444.8 L535.0,443.4 L537.0,442.6 L539.0,442.5 L541.0,443.0 L543.0,443.9 L545.0,444.6 L547.0,445.7 L549.0,446.9 L551.0,448.0 L553.0,449.3 L555.0,450.2 L557.0,450.6 L559.0,450.8 L561.0,450.1 L563.0,448.9 L565.0,447.6 L567.0,446.5 L569.0,446.0 L571.0,446.0 L573.0,446.3 L575.0,446.3 L577.0,446.1 L579.0,446.3 L581.0,446.9 L583.0,447.5 L585.0,447.7 L587.0,447.6 L589.0,448.0 L591.0,448.5 L593.0,448.8 L595.0,448.8 L597.0,448.9 L599.0,449.5 L601.0,449.9 L603.0,450.1 L605.0,450.2 L607.0,450.0 L609.0,449.9 L611.0,449.6 L613.0,448.6 L615.0,447.4 L617.0,446.2 L619.0,445.4 L621.0,445.1 L623.0,444.8 L625.0,444.4 L627.0,443.9 L629.0,443.2 L631.0,443.0 L633.0,443.0 L635.0,442.4 L637.0,442.0 L639.0,442.3 L641.0,442.2 L643.0,441.9 L645.0,441.9 L647.0,441.7 L649.0,441.6 L651.0,441.8 L653.0,441.8 L655.0,441.7 L657.0,441.8 L659.0,441.9 L661.0,442.1 L663.0,442.4 L665.0,442.5 L667.0,442.3 L669.0,442.1 L671.0,442.6 L673.0,443.8 L675.0,444.9 L677.0,445.2 L679.0,444.9 L681.0,443.9 L683.0,442.7 L685.0,442.1 L687.0,442.3 L689.0,443.0 L691.0,443.9 L693.0,444.8 L695.0,445.5 L697.0,445.9 L699.0,446.1 L701.0,446.1 L703.0,445.3 L705.0,443.3 L707.0,441.0 L709.0,439.5 L711.0,438.4 L713.0,437.1 L715.0,436.0 L717.0,435.0 L719.0,434.1 L721.0,433.7 L723.0,433.1 L725.0,432.4 L727.0,432.3 L729.0,432.6 L731.0,433.5 L733.0,434.9 L735.0,436.1 L737.0,436.8 L739.0,437.3 L741.0,437.7 L743.0,438.0 L745.0,438.2 L747.0,438.9 L749.0,440.0 L751.0,440.6 L753.0,441.7 L755.0,443.7 L757.0,446.1 L759.0,447.5 L761.0,447.3 L763.0,447.2 L765.0,447.6 L767.0,447.7 L769.0,447.5 L771.0,447.5 L773.0,447.8 L775.0,448.0 L777.0,447.8 L779.0,447.5 L781.0,447.5 L783.0,447.7 L785.0,447.4 L787.0,446.9 L789.0,446.7 L791.0,446.3 L793.0,446.0 L795.0,445.8 L797.0,445.7 L799.0,445.8 L801.0,446.1 L803.0,446.7 L805.0,447.1 L807.0,447.2 L809.0,447.5 L811.0,447.9 L813.0,447.8 L815.0,448.0 L817.0,448.7 L819.0,449.1 L821.0,449.0 L823.0,448.6 L825.0,448.2 L827.0,448.3 L829.0,448.3 L831.0,448.0 L833.0,447.7 L835.0,447.4 L837.0,447.5 L839.0,447.8 L841.0,447.7 L843.0,447.1 L845.0,446.9 L847.0,447.1 L849.0,447.1 L851.0,446.8 L853.0,446.4 L855.0,446.1 L857.0,446.1 L859.0,446.6 L861.0,446.5 L863.0,446.1 L865.0,446.0 L867.0,446.3 L869.0,446.2 L871.0,446.1 L873.0,446.3 L875.0,446.5 L877.0,446.6 L879.0,446.5 L881.0,446.2 L883.0,446.1 L885.0,446.1 L887.0,445.8 L889.0,446.0 L891.0,446.2 L893.0,446.1 L895.0,445.9 L897.0,444.9 L899.0,443.3 L901.0,441.6 L903.0,439.9 L905.0,438.1 L907.0,436.4 L909.0,434.9 L911.0,433.8 L913.0,432.7 L915.0,430.9 L917.0,428.5 L919.0,425.9 L921.0,422.5 L923.0,418.3 L925.0,414.0 L927.0,409.1 L929.0,403.1 L931.0,397.0 L933.0,390.0 L935.0,381.9 L937.0,374.3 L939.0,367.8 L941.0,365.7 L943.0,364.4 L945.0,364.9 L947.0,368.0 L949.0,374.0 L951.0,383.6 L953.0,387.4 L955.0,388.3 L957.0,386.4 L959.0,383.9 L961.0,381.0 L963.0,379.3 L965.0,380.7 L967.0,383.9 L969.0,387.1 L971.0,391.1 L973.0,396.0 L975.0,400.7 L977.0,404.8 L979.0,409.4 L981.0,414.4 L983.0,417.9 L985.0,420.7 L987.0,423.8 L989.0,426.5 L991.0,428.6 L993.0,430.2 L995.0,431.3 L997.0,432.2 L999.0,433.3 L1001.0,434.7 L1003.0,436.1 L1005.0,437.4 L1007.0,438.1 L1009.0,438.8 L1011.0,440.4 L1013.0,442.1 L1015.0,443.4 L1017.0,444.2 L1019.0,445.1 L1021.0,446.1 L1023.0,446.8 L1025.0,447.5 L1027.0,448.1 L1029.0,448.7 L1031.0,449.2 L1033.0,449.2 L1035.0,449.6 L1037.0,450.0 L1039.0,449.9 L1041.0,449.4 L1043.0,448.5 L1045.0,448.0 L1047.0,447.9 L1049.0,448.0 L1051.0,448.7 L1053.0,449.7 L1055.0,450.6 L1057.0,450.8 L1059.0,449.7 L1061.0,448.0 L1063.0,446.8 L1065.0,446.6 L1067.0,446.5 L1069.0,446.8 L1071.0,447.2 L1073.0,447.5 L1075.0,447.9 L1077.0,448.1 L1079.0,448.3 L1081.0,448.8 L1083.0,448.8 L1085.0,448.5 L1087.0,448.2 L1089.0,448.1 L1091.0,448.0 L1093.0,448.1 L1095.0,448.2 L1097.0,448.3 L1099.0,448.9 L1101.0,449.5 L1103.0,449.7 L1105.0,450.2 L1107.0,450.5 L1109.0,450.0 L1111.0,449.3 L1113.0,448.9 L1115.0,448.8 L1117.0,449.4 L1119.0,451.2 L1121.0,452.3 L1123.0,451.8 L1125.0,450.7 L1127.0,449.6 L1129.0,448.3 L1131.0,447.5 L1133.0,447.6 L1135.0,448.3 L1137.0,449.6 L1139.0,450.8 L1141.0,451.7 L1143.0,452.0 L1145.0,451.4 L1147.0,450.7 L1149.0,449.6 L1151.0,448.6 L1153.0,447.8 L1155.0,446.9 L1157.0,446.8 L1159.0,447.5 L1161.0,448.0 L1163.0,448.4 L1165.0,449.0 L1167.0,449.8 L1169.0,450.5 L1171.0,450.7 L1173.0,450.9 L1175.0,451.3 L1177.0,451.7 L1179.0,451.7 L1181.0,451.6 L1183.0,452.4 L1185.0,453.5 L1187.0,454.3 L1189.0,455.1 L1191.0,455.4 L1193.0,454.9 L1195.0,453.9 L1197.0,453.0 L1199.0,452.2 L1201.0,451.2 L1203.0,451.1 L1205.0,451.4 L1207.0,451.2 L1209.0,451.0 L1211.0,451.4 L1213.0,451.8 L1215.0,452.3 L1217.0,453.0 L1219.0,453.5 L1221.0,454.0 L1223.0,454.4 L1225.0,454.5 L1227.0,454.0 L1229.0,453.3 L1231.0,452.6 L1233.0,452.2 L1235.0,452.2 L1237.0,452.2 L1239.0,452.2 L1241.0,452.6 L1243.0,453.4 L1245.0,453.9 L1246.5,454.3" fill="none" stroke="#2b7d36" stroke-width="4.4" stroke-linejoin="round" stroke-linecap="butt"/>
<path d="M263.0,384.5 L265.0,384.5 L267.0,384.5 L269.0,384.4 L271.0,384.4 L273.0,384.5 L275.0,384.6 L277.0,384.4 L279.0,384.1 L281.0,384.2 L283.0,384.6 L285.0,384.5 L287.0,384.4 L289.0,384.4 L291.0,384.5 L293.0,384.7 L295.0,384.9 L297.0,385.4 L299.0,386.1 L301.0,386.8 L303.0,387.2 L305.0,387.4 L307.0,387.7 L309.0,387.3 L311.0,386.7 L313.0,386.8 L315.0,387.3 L317.0,387.2 L319.0,386.8 L321.0,386.5 L323.0,386.5 L325.0,386.7 L327.0,386.7 L329.0,386.7 L331.0,386.2 L333.0,385.8 L335.0,386.2 L337.0,386.3 L339.0,386.5 L341.0,386.8 L343.0,386.9 L345.0,387.0 L347.0,387.0 L349.0,387.0 L351.0,387.2 L353.0,387.4 L355.0,387.7 L357.0,387.8 L359.0,387.7 L361.0,387.6 L363.0,387.3 L365.0,387.0 L367.0,386.8 L369.0,386.5 L371.0,386.1 L373.0,385.7 L375.0,385.6 L377.0,385.5 L379.0,385.4 L381.0,385.4 L383.0,385.7 L385.0,386.1 L387.0,386.3 L389.0,386.8 L391.0,387.4 L393.0,387.4 L395.0,387.4 L397.0,387.9 L399.0,388.3 L401.0,388.5 L403.0,388.8 L405.0,389.0 L407.0,389.0 L409.0,389.1 L411.0,389.2 L413.0,389.4 L415.0,389.8 L417.0,390.0 L419.0,390.1 L421.0,390.2 L423.0,390.3 L425.0,390.3 L427.0,390.1 L429.0,390.1 L431.0,390.2 L433.0,390.2 L435.0,390.0 L437.0,389.6 L439.0,389.2 L441.0,389.0 L443.0,388.4 L445.0,387.8 L447.0,387.5 L449.0,387.5 L451.0,387.7 L453.0,387.5 L455.0,387.4 L457.0,387.5 L459.0,387.5 L461.0,387.7 L463.0,387.9 L465.0,387.9 L467.0,388.0 L469.0,387.9 L471.0,387.8 L473.0,388.1 L475.0,388.2 L477.0,388.0 L479.0,387.9 L481.0,388.1 L483.0,388.1 L485.0,388.2 L487.0,388.6 L489.0,388.5 L491.0,388.3 L493.0,388.5 L495.0,388.8 L497.0,389.0 L499.0,389.1 L501.0,389.3 L503.0,389.3 L505.0,389.0 L507.0,388.9 L509.0,389.2 L511.0,389.6 L513.0,390.0 L515.0,389.9 L517.0,389.7 L519.0,389.9 L521.0,390.2 L523.0,390.1 L525.0,390.2 L527.0,390.2 L529.0,390.1 L531.0,390.5 L533.0,390.8 L535.0,390.7 L537.0,390.5 L539.0,390.5 L541.0,390.7 L543.0,391.0 L545.0,391.1 L547.0,391.3 L549.0,391.6 L551.0,391.6 L553.0,391.1 L555.0,391.2 L557.0,391.5 L559.0,391.5 L561.0,391.6 L563.0,391.4 L565.0,390.8 L567.0,390.4 L569.0,390.1 L571.0,389.7 L573.0,389.3 L575.0,389.3 L577.0,389.2 L579.0,388.9 L581.0,388.7 L583.0,388.5 L585.0,388.6 L587.0,388.7 L589.0,388.5 L591.0,388.6 L593.0,388.9 L595.0,388.9 L597.0,389.3 L599.0,389.5 L601.0,389.3 L603.0,389.3 L605.0,389.3 L607.0,389.5 L609.0,389.6 L611.0,389.7 L613.0,389.8 L615.0,389.9 L617.0,389.9 L619.0,389.6 L621.0,389.4 L623.0,389.5 L625.0,389.5 L627.0,389.4 L629.0,389.6 L631.0,389.7 L633.0,389.5 L635.0,389.4 L637.0,389.5 L639.0,389.5 L641.0,389.5 L643.0,389.3 L645.0,389.2 L647.0,389.3 L649.0,388.9 L651.0,388.4 L653.0,388.4 L655.0,388.5 L657.0,388.4 L659.0,388.1 L661.0,387.9 L663.0,387.9 L665.0,388.1 L667.0,388.1 L669.0,387.8 L671.0,387.5 L673.0,387.3 L675.0,387.2 L677.0,387.3 L679.0,387.2 L681.0,386.8 L683.0,386.6 L685.0,386.6 L687.0,386.6 L689.0,386.6 L691.0,386.6 L693.0,386.6 L695.0,387.1 L697.0,387.4 L699.0,387.6 L701.0,388.1 L703.0,388.8 L705.0,389.1 L707.0,389.4 L709.0,389.7 L711.0,389.7 L713.0,389.4 L715.0,389.2 L717.0,389.2 L719.0,388.8 L721.0,388.0 L723.0,387.6 L725.0,387.3 L727.0,386.7 L729.0,386.2 L731.0,385.6 L733.0,384.8 L735.0,383.9 L737.0,383.0 L739.0,381.9 L741.0,381.0 L743.0,380.4 L745.0,378.7 L747.0,375.4 L749.0,371.8 L751.0,368.4 L753.0,365.5 L755.0,362.5 L757.0,359.2 L759.0,356.8 L761.0,356.2 L763.0,356.7 L765.0,357.6 L767.0,359.1 L769.0,360.7 L771.0,362.0 L773.0,363.2 L775.0,365.1 L777.0,367.0 L779.0,368.7 L781.0,371.4 L783.0,374.7 L785.0,377.9 L787.0,380.5 L789.0,382.7 L791.0,383.1 L793.0,383.2 L795.0,383.6 L797.0,384.1 L799.0,384.2 L801.0,384.3 L803.0,384.6 L805.0,384.9 L807.0,385.0 L809.0,385.1 L811.0,385.5 L813.0,386.0 L815.0,386.6 L817.0,386.9 L819.0,386.7 L821.0,386.5 L823.0,386.5 L825.0,386.9 L827.0,387.3 L829.0,387.3 L831.0,387.1 L833.0,387.1 L835.0,387.4 L837.0,387.5 L839.0,387.4 L841.0,387.6 L843.0,387.8 L845.0,387.9 L847.0,388.1 L849.0,388.1 L851.0,387.9 L853.0,387.9 L855.0,387.8 L857.0,387.7 L859.0,387.7 L861.0,387.8 L863.0,388.0 L865.0,388.1 L867.0,388.2 L869.0,387.9 L871.0,387.5 L873.0,387.5 L875.0,387.6 L877.0,387.6 L879.0,387.6 L881.0,387.8 L883.0,387.8 L885.0,387.4 L887.0,387.4 L889.0,387.3 L891.0,387.2 L893.0,387.4 L895.0,387.5 L897.0,387.4 L899.0,387.7 L901.0,388.2 L903.0,387.8 L905.0,387.3 L907.0,387.5 L909.0,387.8 L911.0,388.1 L913.0,388.6 L915.0,389.0 L917.0,389.0 L919.0,388.1 L921.0,386.9 L923.0,385.8 L925.0,385.2 L927.0,384.8 L929.0,384.3 L931.0,383.8 L933.0,383.5 L935.0,383.4 L937.0,383.1 L939.0,382.3 L941.0,381.8 L943.0,381.2 L945.0,380.3 L947.0,379.7 L949.0,379.0 L951.0,378.2 L953.0,377.6 L955.0,376.9 L957.0,375.6 L959.0,373.8 L961.0,372.1 L963.0,370.0 L965.0,366.9 L967.0,363.6 L969.0,360.4 L971.0,356.8 L973.0,352.9 L975.0,348.2 L977.0,341.9 L979.0,334.2 L981.0,326.5 L983.0,318.4 L985.0,309.4 L987.0,299.6 L989.0,292.7 L991.0,287.4 L993.0,286.5 L995.0,287.3 L997.0,288.2 L999.0,292.6 L1001.0,298.7 L1003.0,305.5 L1005.0,308.4 L1007.0,310.4 L1009.0,312.6 L1011.0,315.5 L1013.0,319.6 L1015.0,325.5 L1017.0,333.7 L1019.0,342.2 L1021.0,349.4 L1023.0,354.3 L1025.0,358.5 L1027.0,362.3 L1029.0,365.8 L1031.0,369.5 L1033.0,373.0 L1035.0,376.1 L1037.0,379.3 L1039.0,382.0 L1041.0,382.9 L1043.0,383.2 L1045.0,383.8 L1047.0,384.3 L1049.0,384.3 L1051.0,384.8 L1053.0,385.7 L1055.0,385.9 L1057.0,385.6 L1059.0,385.8 L1061.0,386.4 L1063.0,386.6 L1065.0,386.9 L1067.0,387.4 L1069.0,387.6 L1071.0,387.4 L1073.0,387.7 L1075.0,388.6 L1077.0,389.4 L1079.0,389.6 L1081.0,389.8 L1083.0,390.4 L1085.0,390.8 L1087.0,390.8 L1089.0,390.8 L1091.0,391.1 L1093.0,391.1 L1095.0,391.0 L1097.0,390.8 L1099.0,390.6 L1101.0,390.3 L1103.0,390.1 L1105.0,390.2 L1107.0,390.1 L1109.0,390.0 L1111.0,390.2 L1113.0,390.2 L1115.0,389.9 L1117.0,389.6 L1119.0,389.6 L1121.0,389.5 L1123.0,389.3 L1125.0,389.4 L1127.0,389.7 L1129.0,389.6 L1131.0,389.2 L1133.0,389.0 L1135.0,389.0 L1137.0,389.2 L1139.0,389.2 L1141.0,388.6 L1143.0,388.3 L1145.0,388.5 L1147.0,388.6 L1149.0,388.6 L1151.0,388.7 L1153.0,388.7 L1155.0,388.3 L1157.0,387.8 L1159.0,387.6 L1161.0,387.9 L1163.0,388.0 L1165.0,387.9 L1167.0,387.9 L1169.0,387.8 L1171.0,387.4 L1173.0,386.5 L1175.0,385.3 L1177.0,384.3 L1179.0,383.4 L1181.0,382.9 L1183.0,383.3 L1185.0,383.8 L1187.0,384.0 L1189.0,383.9 L1191.0,383.8 L1193.0,383.9 L1195.0,384.2 L1197.0,384.1 L1199.0,383.8 L1201.0,383.9 L1203.0,384.3 L1205.0,385.3 L1207.0,387.0 L1209.0,388.6 L1211.0,389.5 L1213.0,390.0 L1215.0,390.2 L1217.0,390.0 L1219.0,389.3 L1221.0,388.3 L1223.0,388.1 L1225.0,388.5 L1227.0,388.7 L1229.0,389.0 L1231.0,389.7 L1233.0,390.8 L1235.0,391.3 L1237.0,391.1 L1239.0,390.9 L1241.0,390.8 L1243.0,390.8 L1245.0,390.9 L1246.5,390.8" fill="none" stroke="#2e8080" stroke-width="4.4" stroke-linejoin="round" stroke-linecap="butt"/>
<path d="M263.2,330.7 L265.2,329.3 L267.2,328.4 L269.2,328.0 L271.2,327.7 L273.2,327.4 L275.2,327.1 L277.2,327.7 L279.2,329.2 L281.2,330.8 L283.2,332.0 L285.2,332.3 L287.2,331.8 L289.2,331.1 L291.2,329.8 L293.2,328.3 L295.2,327.6 L297.2,328.0 L299.2,328.9 L301.2,330.3 L303.2,331.8 L305.2,333.1 L307.2,333.8 L309.2,334.1 L311.2,334.5 L313.2,334.5 L315.2,334.1 L317.2,333.8 L319.2,333.8 L321.2,333.7 L323.2,333.4 L325.2,333.4 L327.2,334.1 L329.2,335.0 L331.2,335.4 L333.2,335.6 L335.2,335.3 L337.2,334.1 L339.2,332.2 L341.2,330.3 L343.2,328.6 L345.2,327.8 L347.2,327.8 L349.2,327.7 L351.2,328.2 L353.2,328.9 L355.2,329.4 L357.2,329.8 L359.2,329.8 L361.2,329.5 L363.2,328.9 L365.2,328.2 L367.2,327.7 L369.2,327.3 L371.2,327.5 L373.2,328.0 L375.2,328.2 L377.2,328.5 L379.2,329.4 L381.2,330.2 L383.2,331.0 L385.2,331.7 L387.2,332.4 L389.2,333.5 L391.2,334.4 L393.2,334.9 L395.2,334.7 L397.2,334.3 L399.2,334.4 L401.2,334.3 L403.2,333.4 L405.2,332.7 L407.2,332.2 L409.2,331.7 L411.2,330.9 L413.2,329.9 L415.2,329.4 L417.2,329.1 L419.2,328.6 L421.2,328.8 L423.2,329.5 L425.2,330.1 L427.2,330.2 L429.2,330.5 L431.2,331.6 L433.2,332.6 L435.2,333.4 L437.2,334.7 L439.2,336.1 L441.2,336.9 L443.2,337.6 L445.2,338.7 L447.2,339.4 L449.2,339.8 L451.2,340.0 L453.2,339.4 L455.2,338.0 L457.2,336.1 L459.2,334.5 L461.2,333.0 L463.2,331.9 L465.2,331.5 L467.2,331.6 L469.2,331.7 L471.2,332.7 L473.2,333.9 L475.2,334.7 L477.2,335.2 L479.2,335.8 L481.2,335.9 L483.2,335.9 L485.2,335.9 L487.2,335.3 L489.2,334.3 L491.2,333.2 L493.2,332.4 L495.2,332.0 L497.2,332.2 L499.2,332.5 L501.2,332.8 L503.2,333.1 L505.2,333.3 L507.2,334.1 L509.2,335.2 L511.2,335.8 L513.2,336.0 L515.2,335.9 L517.2,336.0 L519.2,336.1 L521.2,335.5 L523.2,334.2 L525.2,333.2 L527.2,332.3 L529.2,331.4 L531.2,331.1 L533.2,331.4 L535.2,332.0 L537.2,333.0 L539.2,333.8 L541.2,334.6 L543.2,335.7 L545.2,336.5 L547.2,337.0 L549.2,337.7 L551.2,338.1 L553.2,338.8 L555.2,339.3 L557.2,339.5 L559.2,340.1 L561.2,340.5 L563.2,340.4 L565.2,339.5 L567.2,337.8 L569.2,335.6 L571.2,334.0 L573.2,333.4 L575.2,334.1 L577.2,335.4 L579.2,336.6 L581.2,338.1 L583.2,339.9 L585.2,341.3 L587.2,342.2 L589.2,342.0 L591.2,340.8 L593.2,339.2 L595.2,338.0 L597.2,337.3 L599.2,337.2 L601.2,336.8 L603.2,336.8 L605.2,337.4 L607.2,337.6 L609.2,337.5 L611.2,337.4 L613.2,337.3 L615.2,337.5 L617.2,338.2 L619.2,338.9 L621.2,339.4 L623.2,339.9 L625.2,340.3 L627.2,339.9 L629.2,337.8 L631.2,335.1 L633.2,332.7 L635.2,331.8 L637.2,332.3 L639.2,333.2 L641.2,334.7 L643.2,335.9 L645.2,336.6 L647.2,337.3 L649.2,338.0 L651.2,338.6 L653.2,338.9 L655.2,339.2 L657.2,339.9 L659.2,340.5 L661.2,341.0 L663.2,341.3 L665.2,341.6 L667.2,342.2 L669.2,342.6 L671.2,342.7 L673.2,342.8 L675.2,342.8 L677.2,342.7 L679.2,342.3 L681.2,341.6 L683.2,340.7 L685.2,340.2 L687.2,339.7 L689.2,338.8 L691.2,338.1 L693.2,337.9 L695.2,338.0 L697.2,338.0 L699.2,337.8 L701.2,337.9 L703.2,338.2 L705.2,338.5 L707.2,338.8 L709.2,339.2 L711.2,339.6 L713.2,339.8 L715.2,339.6 L717.2,339.3 L719.2,339.0 L721.2,338.5 L723.2,337.5 L725.2,336.0 L727.2,334.7 L729.2,333.3 L731.2,331.8 L733.2,330.4 L735.2,329.3 L737.2,328.6 L739.2,328.4 L741.2,328.3 L743.2,328.6 L745.2,328.9 L747.2,328.8 L749.2,328.5 L751.2,328.5 L753.2,328.9 L755.2,329.8 L757.2,331.3 L759.2,332.8 L761.2,334.2 L763.2,335.6 L765.2,336.6 L767.2,337.6 L769.2,338.4 L771.2,338.9 L773.2,339.0 L775.2,338.8 L777.2,338.3 L779.2,337.8 L781.2,337.1 L783.2,336.5 L785.2,336.3 L787.2,336.4 L789.2,336.7 L791.2,336.7 L793.2,336.4 L795.2,336.2 L797.2,335.8 L799.2,334.7 L801.2,333.2 L803.2,331.3 L805.2,330.1 L807.2,329.4 L809.2,328.3 L811.2,327.0 L813.2,326.0 L815.2,325.4 L817.2,324.4 L819.2,323.9 L821.2,324.4 L823.2,325.2 L825.2,326.5 L827.2,328.3 L829.2,330.0 L831.2,331.4 L833.2,332.8 L835.2,334.4 L837.2,335.9 L839.2,336.6 L841.2,336.3 L843.2,336.1 L845.2,336.0 L847.2,335.6 L849.2,335.5 L851.2,335.7 L853.2,335.5 L855.2,335.4 L857.2,335.8 L859.2,336.2 L861.2,336.4 L863.2,336.6 L865.2,336.7 L867.2,336.9 L869.2,337.2 L871.2,337.7 L873.2,338.7 L875.2,339.6 L877.2,340.2 L879.2,340.6 L881.2,340.4 L883.2,340.1 L885.2,340.1 L887.2,340.1 L889.2,339.8 L891.2,339.8 L893.2,339.7 L895.2,339.4 L897.2,339.1 L899.2,339.1 L901.2,339.0 L903.2,338.7 L905.2,338.6 L907.2,338.7 L909.2,339.0 L911.2,339.7 L913.2,340.7 L915.2,341.5 L917.2,342.1 L919.2,342.6 L921.2,343.1 L923.2,343.3 L925.2,343.2 L927.2,342.8 L929.2,341.6 L931.2,340.2 L933.2,339.0 L935.2,338.6 L937.2,339.0 L939.2,339.9 L941.2,341.1 L943.2,342.1 L945.2,342.6 L947.2,342.6 L949.2,342.2 L951.2,341.3 L953.2,340.4 L955.2,339.4 L957.2,338.6 L959.2,338.8 L961.2,339.2 L963.2,339.1 L965.2,339.4 L967.2,339.6 L969.2,339.5 L971.2,339.8 L973.2,339.9 L975.2,339.9 L977.2,340.0 L979.2,339.9 L981.2,339.9 L983.2,340.4 L985.2,340.7 L987.2,341.1 L989.2,342.5 L991.2,343.8 L993.2,343.8 L995.2,343.2 L997.2,342.6 L999.2,341.8 L1001.2,340.9 L1003.2,339.9 L1005.2,338.9 L1007.2,338.2 L1009.2,337.8 L1011.2,337.6 L1013.2,337.3 L1015.2,336.7 L1017.2,335.9 L1019.2,335.0 L1021.2,333.9 L1023.2,333.1 L1025.2,332.2 L1027.2,331.3 L1029.2,330.6 L1031.2,329.7 L1033.2,327.8 L1035.2,325.2 L1037.2,321.2 L1039.2,315.8 L1041.2,311.9 L1043.2,309.9 L1045.2,308.5 L1047.2,307.1 L1049.2,305.2 L1051.2,303.8 L1053.2,302.7 L1055.2,300.7 L1057.2,296.5 L1059.2,291.0 L1061.2,282.4 L1063.2,275.7 L1065.2,270.7 L1067.2,268.2 L1069.2,268.6 L1071.2,269.8 L1073.2,271.1 L1075.2,273.2 L1077.2,275.9 L1079.2,278.6 L1081.2,281.4 L1083.2,285.4 L1085.2,291.8 L1087.2,299.0 L1089.2,306.1 L1091.2,313.5 L1093.2,318.8 L1095.2,322.9 L1097.2,326.5 L1099.2,329.7 L1101.2,332.4 L1103.2,334.8 L1105.2,336.8 L1107.2,338.5 L1109.2,339.4 L1111.2,339.8 L1113.2,340.6 L1115.2,341.4 L1117.2,341.9 L1119.2,342.7 L1121.2,343.9 L1123.2,344.8 L1125.2,345.4 L1127.2,345.8 L1129.2,345.6 L1131.2,344.7 L1133.2,343.3 L1135.2,342.0 L1137.2,341.2 L1139.2,340.9 L1141.2,340.7 L1143.2,340.8 L1145.2,340.9 L1147.2,340.5 L1149.2,340.0 L1151.2,339.9 L1153.2,340.2 L1155.2,341.5 L1157.2,343.1 L1159.2,344.9 L1161.2,346.2 L1163.2,346.2 L1165.2,345.9 L1167.2,345.8 L1169.2,345.8 L1171.2,345.9 L1173.2,345.7 L1175.2,345.1 L1177.2,344.4 L1179.2,344.6 L1181.2,345.0 L1183.2,345.0 L1185.2,344.4 L1187.2,344.1 L1189.2,344.3 L1191.2,344.2 L1193.2,343.9 L1195.2,344.2 L1197.2,344.7 L1199.2,344.8 L1201.2,344.6 L1203.2,344.5 L1205.2,344.7 L1207.2,344.4 L1209.2,344.1 L1211.2,344.2 L1213.2,344.0 L1215.2,342.9 L1217.2,341.3 L1219.2,340.0 L1221.2,339.4 L1223.2,339.3 L1225.2,339.3 L1227.2,339.8 L1229.2,340.1 L1231.2,340.0 L1233.2,340.2 L1235.2,340.9 L1237.2,341.7 L1239.2,342.4 L1241.2,343.2 L1243.2,344.1 L1244.8,345.0" fill="none" stroke="#7a7a7a" stroke-width="4.4" stroke-linejoin="round" stroke-linecap="butt"/>
<path d="M263.2,278.5 L265.2,279.0 L267.2,279.5 L269.2,280.1 L271.2,280.8 L273.2,281.3 L275.2,281.9 L277.2,282.6 L279.2,283.0 L281.2,283.3 L283.2,283.0 L285.2,282.6 L287.2,282.4 L289.2,282.3 L291.2,282.8 L293.2,283.8 L295.2,284.8 L297.2,285.9 L299.2,287.1 L301.2,287.9 L303.2,287.5 L305.2,286.6 L307.2,285.7 L309.2,284.8 L311.2,284.0 L313.2,283.2 L315.2,283.1 L317.2,284.1 L319.2,285.4 L321.2,286.0 L323.2,285.3 L325.2,284.3 L327.2,283.9 L329.2,283.9 L331.2,284.1 L333.2,284.4 L335.2,284.9 L337.2,285.9 L339.2,286.6 L341.2,286.7 L343.2,287.2 L345.2,288.2 L347.2,288.9 L349.2,288.4 L351.2,287.7 L353.2,287.2 L355.2,286.7 L357.2,286.8 L359.2,287.6 L361.2,288.4 L363.2,289.0 L365.2,289.6 L367.2,290.0 L369.2,289.8 L371.2,288.8 L373.2,287.6 L375.2,286.7 L377.2,286.4 L379.2,286.8 L381.2,287.2 L383.2,287.6 L385.2,288.7 L387.2,289.2 L389.2,288.2 L391.2,286.6 L393.2,285.5 L395.2,284.7 L397.2,284.6 L399.2,285.2 L401.2,286.0 L403.2,286.9 L405.2,287.9 L407.2,288.4 L409.2,288.5 L411.2,289.0 L413.2,289.4 L415.2,289.8 L417.2,290.3 L419.2,290.6 L421.2,291.2 L423.2,291.3 L425.2,291.0 L427.2,291.3 L429.2,291.6 L431.2,291.2 L433.2,290.9 L435.2,291.2 L437.2,291.2 L439.2,290.6 L441.2,290.4 L443.2,290.2 L445.2,289.8 L447.2,289.5 L449.2,289.4 L451.2,289.5 L453.2,289.1 L455.2,288.9 L457.2,288.9 L459.2,288.8 L461.2,289.3 L463.2,290.3 L465.2,291.1 L467.2,291.8 L469.2,292.2 L471.2,292.2 L473.2,291.8 L475.2,291.0 L477.2,289.8 L479.2,288.3 L481.2,287.1 L483.2,286.2 L485.2,285.6 L487.2,285.5 L489.2,285.7 L491.2,285.7 L493.2,286.2 L495.2,286.9 L497.2,287.6 L499.2,288.5 L501.2,289.2 L503.2,289.7 L505.2,290.4 L507.2,290.9 L509.2,291.2 L511.2,291.5 L513.2,292.0 L515.2,292.4 L517.2,292.6 L519.2,292.4 L521.2,292.0 L523.2,291.3 L525.2,290.9 L527.2,291.0 L529.2,290.9 L531.2,290.4 L533.2,290.3 L535.2,290.1 L537.2,289.7 L539.2,289.5 L541.2,289.0 L543.2,288.4 L545.2,288.4 L547.2,288.7 L549.2,288.9 L551.2,288.9 L553.2,288.9 L555.2,289.2 L557.2,289.7 L559.2,290.3 L561.2,290.9 L563.2,291.3 L565.2,291.5 L567.2,291.8 L569.2,292.2 L571.2,292.8 L573.2,293.0 L575.2,292.8 L577.2,293.3 L579.2,294.1 L581.2,294.3 L583.2,294.2 L585.2,294.5 L587.2,294.7 L589.2,294.3 L591.2,293.9 L593.2,294.0 L595.2,294.2 L597.2,294.2 L599.2,294.3 L601.2,294.5 L603.2,294.2 L605.2,293.6 L607.2,293.4 L609.2,293.3 L611.2,293.6 L613.2,293.6 L615.2,293.3 L617.2,293.0 L619.2,292.6 L621.2,292.7 L623.2,292.5 L625.2,291.6 L627.2,291.3 L629.2,290.7 L631.2,289.7 L633.2,289.3 L635.2,290.0 L637.2,290.9 L639.2,291.4 L641.2,291.9 L643.2,292.2 L645.2,292.1 L647.2,291.9 L649.2,291.7 L651.2,291.6 L653.2,291.3 L655.2,291.1 L657.2,290.6 L659.2,290.1 L661.2,290.1 L663.2,289.7 L665.2,289.2 L667.2,289.2 L669.2,289.2 L671.2,289.7 L673.2,290.5 L675.2,291.1 L677.2,291.8 L679.2,292.7 L681.2,293.3 L683.2,293.1 L685.2,292.2 L687.2,291.4 L689.2,290.7 L691.2,290.2 L693.2,290.2 L695.2,290.4 L697.2,290.6 L699.2,290.8 L701.2,291.2 L703.2,291.6 L705.2,292.2 L707.2,292.8 L709.2,293.0 L711.2,292.7 L713.2,292.4 L715.2,292.5 L717.2,292.1 L719.2,291.2 L721.2,290.6 L723.2,290.1 L725.2,289.0 L727.2,288.1 L729.2,287.8 L731.2,287.0 L733.2,286.1 L735.2,285.8 L737.2,285.4 L739.2,285.4 L741.2,286.1 L743.2,286.6 L745.2,287.2 L747.2,288.1 L749.2,288.6 L751.2,288.6 L753.2,287.9 L755.2,286.6 L757.2,284.9 L759.2,284.0 L761.2,284.2 L763.2,284.6 L765.2,285.2 L767.2,285.6 L769.2,285.1 L771.2,283.3 L773.2,280.6 L775.2,278.0 L777.2,274.7 L779.2,272.7 L781.2,272.9 L783.2,273.1 L785.2,273.2 L787.2,273.4 L789.2,273.5 L791.2,270.3 L793.2,265.2 L795.2,259.7 L797.2,253.8 L799.2,249.1 L801.2,244.7 L803.2,241.0 L805.2,238.3 L807.2,236.0 L809.2,234.0 L811.2,231.9 L813.2,228.1 L815.2,221.9 L817.2,216.6 L819.2,211.5 L821.2,209.6 L823.2,210.6 L825.2,213.2 L827.2,221.2 L829.2,229.7 L831.2,237.9 L833.2,244.4 L835.2,249.7 L837.2,253.4 L839.2,256.5 L841.2,259.3 L843.2,263.2 L845.2,267.7 L847.2,271.4 L849.2,274.3 L851.2,276.8 L853.2,278.6 L855.2,280.0 L857.2,281.4 L859.2,282.7 L861.2,283.9 L863.2,284.9 L865.2,285.3 L867.2,285.4 L869.2,285.5 L871.2,285.4 L873.2,285.4 L875.2,285.5 L877.2,285.5 L879.2,285.6 L881.2,285.5 L883.2,285.3 L885.2,285.2 L887.2,285.5 L889.2,286.0 L891.2,286.4 L893.2,286.6 L895.2,286.6 L897.2,286.8 L899.2,286.9 L901.2,287.4 L903.2,288.4 L905.2,289.3 L907.2,289.8 L909.2,290.7 L911.2,291.7 L913.2,292.1 L915.2,292.6 L917.2,293.4 L919.2,293.1 L921.2,292.1 L923.2,290.8 L925.2,289.6 L927.2,288.5 L929.2,287.6 L931.2,287.6 L933.2,288.5 L935.2,289.7 L937.2,290.8 L939.2,291.2 L941.2,291.4 L943.2,292.1 L945.2,292.5 L947.2,292.8 L949.2,293.1 L951.2,293.2 L953.2,292.9 L955.2,292.9 L957.2,292.5 L959.2,290.9 L961.2,289.1 L963.2,287.8 L965.2,287.6 L967.2,288.0 L969.2,288.8 L971.2,289.9 L973.2,290.9 L975.2,291.8 L977.2,292.7 L979.2,292.7 L981.2,291.7 L983.2,290.5 L985.2,289.7 L987.2,289.3 L989.2,288.5 L991.2,287.7 L993.2,287.3 L995.2,287.4 L997.2,287.2 L999.2,287.0 L1001.2,286.8 L1003.2,286.7 L1005.2,285.5 L1007.2,283.6 L1009.2,282.5 L1011.2,282.9 L1013.2,284.0 L1015.2,285.0 L1017.2,285.3 L1019.2,285.8 L1021.2,285.6 L1023.2,283.5 L1025.2,281.3 L1027.2,279.0 L1029.2,275.0 L1031.2,271.5 L1033.2,270.3 L1035.2,269.8 L1037.2,269.4 L1039.2,268.9 L1041.2,268.5 L1043.2,268.0 L1045.2,266.4 L1047.2,263.6 L1049.2,260.3 L1051.2,255.2 L1053.2,250.1 L1055.2,247.5 L1057.2,245.5 L1059.2,244.2 L1061.2,243.4 L1063.2,242.9 L1065.2,242.2 L1067.2,241.3 L1069.2,240.6 L1071.2,240.0 L1073.2,239.8 L1075.2,240.6 L1077.2,242.4 L1079.2,245.8 L1081.2,249.7 L1083.2,251.3 L1085.2,252.5 L1087.2,254.2 L1089.2,256.9 L1091.2,259.8 L1093.2,262.9 L1095.2,267.6 L1097.2,272.9 L1099.2,277.9 L1101.2,281.8 L1103.2,283.2 L1105.2,284.1 L1107.2,284.8 L1109.2,284.4 L1111.2,283.6 L1113.2,282.9 L1115.2,282.7 L1117.2,283.8 L1119.2,285.0 L1121.2,286.3 L1123.2,288.2 L1125.2,289.0 L1127.2,288.9 L1129.2,288.7 L1131.2,288.5 L1133.2,287.8 L1135.2,287.2 L1137.2,287.3 L1139.2,287.7 L1141.2,288.1 L1143.2,288.8 L1145.2,290.0 L1147.2,291.0 L1149.2,292.2 L1151.2,293.3 L1153.2,293.6 L1155.2,293.0 L1157.2,292.5 L1159.2,292.2 L1161.2,291.6 L1163.2,291.6 L1165.2,292.0 L1167.2,291.6 L1169.2,290.7 L1171.2,290.3 L1173.2,290.4 L1175.2,290.1 L1177.2,289.6 L1179.2,289.5 L1181.2,289.2 L1183.2,289.8 L1185.2,291.3 L1187.2,291.9 L1189.2,290.9 L1191.2,289.1 L1193.2,287.3 L1195.2,286.2 L1197.2,286.4 L1199.2,287.5 L1201.2,288.7 L1203.2,289.3 L1205.2,289.0 L1207.2,288.2 L1209.2,287.6 L1211.2,287.4 L1213.2,286.6 L1215.2,284.2 L1217.2,281.9 L1219.2,280.2 L1221.2,278.6 L1223.2,277.5 L1225.2,276.9 L1227.2,276.5 L1229.2,276.5 L1231.2,276.8 L1233.2,276.4 L1235.2,274.4 L1237.2,271.7 L1239.2,269.8 L1241.2,268.9 L1243.2,267.7 L1245.2,266.9 L1246.5,266.8" fill="none" stroke="#271c8a" stroke-width="4.4" stroke-linejoin="round" stroke-linecap="butt"/>
<rect x="165.5" y="172" width="1276.5" height="914.4000000000001" fill="none" stroke="#262626" stroke-width="4.0"/>
<path d="M184.2,1086.4 V1075.4 M223.6,1086.4 V1075.4 M262.9,1086.4 V1065.4 M302.3,1086.4 V1075.4 M341.7,1086.4 V1075.4 M381.0,1086.4 V1075.4 M420.4,1086.4 V1075.4 M459.8,1086.4 V1065.4 M499.2,1086.4 V1075.4 M538.5,1086.4 V1075.4 M577.9,1086.4 V1075.4 M617.3,1086.4 V1075.4 M656.7,1086.4 V1065.4 M696.0,1086.4 V1075.4 M735.4,1086.4 V1075.4 M774.8,1086.4 V1075.4 M814.1,1086.4 V1075.4 M853.5,1086.4 V1065.4 M892.9,1086.4 V1075.4 M932.3,1086.4 V1075.4 M971.6,1086.4 V1075.4 M1011.0,1086.4 V1075.4 M1050.4,1086.4 V1065.4 M1089.7,1086.4 V1075.4 M1129.1,1086.4 V1075.4 M1168.5,1086.4 V1075.4 M1207.9,1086.4 V1075.4 M1247.2,1086.4 V1065.4 M1286.6,1086.4 V1075.4 M1326.0,1086.4 V1075.4 M1365.3,1086.4 V1075.4 M1404.7,1086.4 V1075.4" stroke="#262626" stroke-width="3.6" fill="none"/>
<text transform="translate(263.43,1149.00) scale(1.05,1)" font-size="50.8" text-anchor="middle" fill="#111" color="#111">26</text>
<text transform="translate(460.29,1149.00) scale(1.05,1)" font-size="50.8" text-anchor="middle" fill="#111" color="#111">28</text>
<text transform="translate(657.15,1149.00) scale(1.05,1)" font-size="50.8" text-anchor="middle" fill="#111" color="#111">30</text>
<text transform="translate(854.01,1149.00) scale(1.05,1)" font-size="50.8" text-anchor="middle" fill="#111" color="#111">32</text>
<text transform="translate(1050.87,1149.00) scale(1.05,1)" font-size="50.8" text-anchor="middle" fill="#111" color="#111">34</text>
<text transform="translate(1247.73,1149.00) scale(1.05,1)" font-size="50.8" text-anchor="middle" fill="#111" color="#111">36</text>
<text transform="translate(1444.59,1149.00) scale(1.05,1)" font-size="50.8" text-anchor="middle" fill="#111" color="#111">38</text>
<text transform="translate(1273.60,281.00) scale(1.031,1)" font-size="50.5" fill="#111" color="#111">x=0.07</text>
<text transform="translate(1273.60,346.50) scale(1.031,1)" font-size="50.5" fill="#111" color="#111">x=0.08</text>
<text transform="translate(1273.60,409.50) scale(1.031,1)" font-size="50.5" fill="#111" color="#111">x=0.13</text>
<text transform="translate(1273.60,468.50) scale(1.031,1)" font-size="50.5" fill="#111" color="#111">x=0.21</text>
<text transform="translate(1273.60,535.00) scale(1.031,1)" font-size="50.5" fill="#111" color="#111">x=0.30</text>
<text transform="translate(1273.60,601.50) scale(1.031,1)" font-size="50.5" fill="#111" color="#111">x=0.37</text>
<text transform="translate(1273.60,663.00) scale(1.031,1)" font-size="50.5" fill="#111" color="#111">x=0.47</text>
<text transform="translate(1273.60,724.50) scale(1.031,1)" font-size="50.5" fill="#111" color="#111">x=0.56</text>
<text transform="translate(1273.60,798.50) scale(1.031,1)" font-size="50.5" fill="#111" color="#111">x=0.69</text>
<text transform="translate(1273.60,850.50) scale(1.031,1)" font-size="50.5" fill="#111" color="#111">x=0.81</text>
<text transform="translate(1273.60,913.50) scale(1.031,1)" font-size="50.5" fill="#111" color="#111">x=0.89</text>
<text transform="translate(1273.60,976.00) scale(1.031,1)" font-size="50.5" fill="#111" color="#111">x=0.93</text>
<text transform="translate(1273.60,1035.00) scale(1.031,1)" font-size="50.5" fill="#111" color="#111">x=1.00</text>
<text transform="translate(487.50,1224.40) scale(1.035,1)" font-size="62" fill="#111" color="#111">diffraction angle 2<tspan style="font-family:'Liberation Serif',serif" font-size="58">Θ</tspan> (°)</text>
<text transform="translate(112.5,980.2) rotate(-90) scale(0.894,1)" font-size="57" fill="#111" color="#111">normalized intensity (arb. units)</text>
<text transform="translate(820.50,102.60) scale(1.025,1)" font-size="53.5" text-anchor="middle" fill="#111" color="#111">100</text>
<text transform="translate(1079.70,102.40) scale(1.065,1)" font-size="53.8" text-anchor="middle" fill="#111" color="#111">002</text>
<text transform="translate(175.50,242.80) scale(1.052,1)" font-size="53.5" fill="#e3172f" color="#e3172f">ZnO</text>
<text transform="translate(173.60,1060.00) scale(1.067,1)" font-size="48.5" fill="#e3172f" color="#e3172f">ZnS</text>
<path d="M821.4,113.0 V158.4" stroke="#f80d12" stroke-width="7" stroke-linecap="round" fill="none"/><path d="M810.9,156.4 L831.9,156.4 L821.4,192.4 Z" fill="#f80d12"/>
<path d="M1078.5,113.85 V189.8" stroke="#f80d12" stroke-width="8.5" stroke-linecap="round" fill="none"/><path d="M1067.8,187.8 L1089.2,187.8 L1078.5,222.8 Z" fill="#f80d12"/>
<path d="M211.3,271.6 V981" stroke="#f80d12" stroke-width="6" stroke-linecap="round" fill="none"/><path d="M200.5,979 L222.10000000000002,979 L211.3,1013 Z" fill="#f80d12"/>
</g>
</svg>
</body></html>
